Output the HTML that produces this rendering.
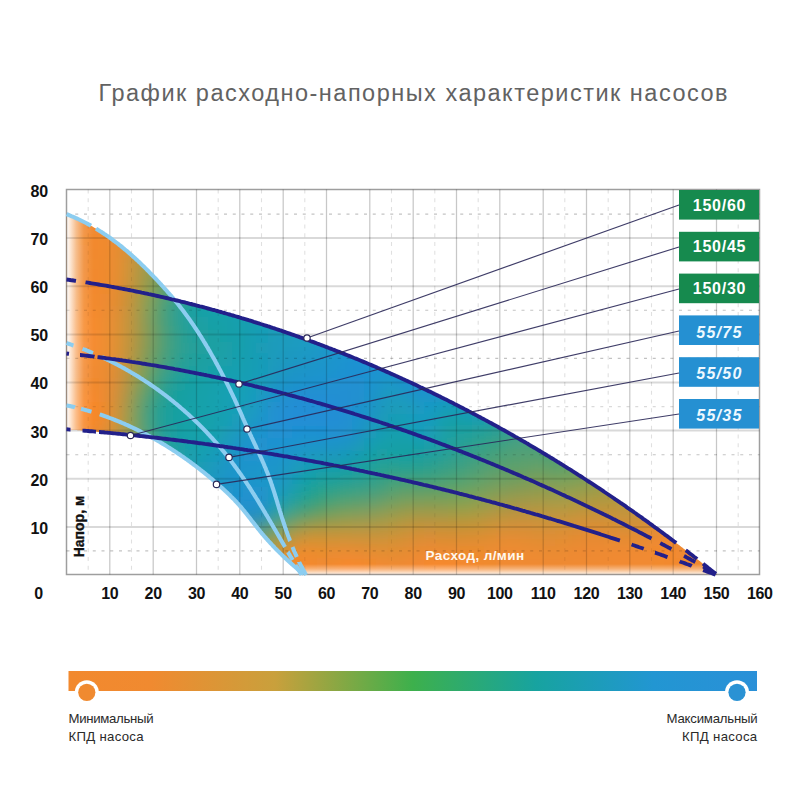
<!DOCTYPE html>
<html><head><meta charset="utf-8"><title>График</title>
<style>html,body{margin:0;padding:0;background:#fff;width:800px;height:800px;overflow:hidden}svg{display:block;font-family:"Liberation Sans",sans-serif}</style>
</head><body>
<svg width="800" height="800" viewBox="0 0 800 800">
<defs>
<clipPath id="fc"><path d="M66.5,214.1 L66.5,214.1 L67.5,214.5 L68.6,215.0 L69.7,215.4 L70.7,215.8 L71.8,216.3 L72.8,216.7 L73.8,217.1 L74.9,217.6 L75.9,218.1 L76.9,218.5 L78.0,219.0 L79.0,219.5 L80.0,220.0 L81.0,220.5 L82.0,221.0 L83.0,221.5 L84.0,222.0 L85.0,222.5 L86.0,223.0 L87.0,223.5 L88.0,224.1 L89.0,224.6 L90.0,225.1 L91.0,225.7 L91.9,226.2 L92.9,226.8 L93.9,227.4 L94.8,227.9 L95.8,228.5 L96.7,229.1 L97.7,229.7 L98.6,230.3 L99.6,230.9 L100.5,231.5 L101.5,232.1 L102.4,232.7 L103.3,233.3 L104.2,233.9 L105.2,234.5 L106.1,235.1 L107.0,235.8 L107.9,236.4 L108.8,237.0 L109.7,237.7 L110.7,238.3 L111.6,239.0 L112.5,239.6 L113.3,240.3 L114.2,241.0 L115.1,241.6 L116.0,242.3 L116.9,243.0 L117.8,243.7 L118.7,244.4 L119.5,245.1 L120.4,245.7 L121.3,246.4 L122.1,247.1 L123.0,247.9 L123.9,248.6 L124.7,249.3 L125.6,250.0 L126.4,250.7 L127.3,251.4 L128.1,252.2 L129.0,252.9 L129.8,253.6 L130.6,254.3 L131.5,255.1 L132.3,255.8 L133.1,256.6 L134.0,257.3 L134.8,258.1 L135.6,258.8 L136.4,259.6 L137.3,260.3 L138.1,261.1 L138.9,261.9 L139.7,262.6 L140.5,263.4 L141.3,264.2 L142.1,265.0 L142.9,265.7 L143.7,266.5 L144.5,267.3 L145.3,268.1 L146.1,268.9 L146.9,269.7 L147.7,270.5 L148.5,271.3 L149.3,272.1 L150.0,272.9 L150.8,273.7 L151.6,274.5 L152.4,275.3 L153.2,276.1 L153.9,276.9 L154.7,277.7 L155.5,278.5 L156.2,279.3 L157.0,280.1 L157.8,281.0 L158.5,281.8 L159.3,282.6 L160.0,283.4 L160.8,284.2 L161.5,285.1 L162.3,285.9 L163.0,286.7 L163.8,287.5 L164.5,288.4 L165.3,289.2 L166.0,290.0 L166.8,290.9 L167.5,291.7 L168.2,292.6 L169.0,293.4 L169.7,294.2 L170.4,295.1 L171.2,295.9 L171.9,296.8 L172.6,297.6 L173.3,298.5 L174.0,299.4 L174.7,300.2 L175.2,300.1 L177.0,300.5 L178.7,300.9 L180.5,301.4 L182.2,301.8 L184.0,302.2 L185.8,302.7 L187.5,303.1 L189.3,303.6 L191.0,304.0 L192.8,304.5 L194.5,304.9 L196.3,305.4 L198.0,305.8 L199.8,306.3 L201.6,306.7 L203.3,307.2 L205.1,307.7 L206.8,308.1 L208.6,308.6 L210.3,309.1 L212.1,309.6 L213.8,310.0 L215.5,310.5 L217.3,311.0 L219.0,311.5 L220.8,312.0 L222.5,312.5 L224.3,313.0 L226.0,313.5 L227.7,314.0 L229.5,314.5 L231.2,315.0 L233.0,315.5 L234.7,316.0 L236.4,316.5 L238.2,317.0 L239.9,317.5 L241.6,318.1 L243.4,318.6 L245.1,319.1 L246.8,319.6 L248.6,320.2 L250.3,320.7 L252.0,321.2 L253.8,321.8 L255.5,322.3 L257.2,322.9 L258.9,323.4 L260.7,324.0 L262.4,324.5 L264.1,325.1 L265.8,325.6 L267.5,326.2 L269.3,326.7 L271.0,327.3 L272.7,327.9 L274.4,328.4 L276.1,329.0 L277.9,329.6 L279.6,330.2 L281.3,330.7 L283.0,331.3 L284.7,331.9 L286.4,332.5 L288.1,333.1 L289.8,333.7 L291.6,334.3 L293.3,334.9 L295.0,335.5 L296.7,336.1 L298.4,336.7 L300.1,337.3 L301.8,337.9 L303.5,338.5 L305.2,339.1 L306.9,339.7 L308.6,340.3 L310.3,341.0 L312.0,341.6 L313.7,342.2 L315.4,342.8 L317.1,343.5 L318.8,344.1 L320.5,344.7 L322.2,345.4 L323.9,346.0 L325.6,346.7 L327.2,347.3 L328.9,348.0 L330.6,348.6 L332.3,349.3 L334.0,349.9 L335.7,350.6 L337.4,351.2 L339.1,351.9 L340.7,352.6 L342.4,353.2 L344.1,353.9 L345.8,354.6 L347.5,355.2 L349.1,355.9 L350.8,356.6 L352.5,357.3 L354.2,358.0 L355.8,358.6 L357.5,359.3 L359.2,360.0 L360.9,360.7 L362.5,361.4 L364.2,362.1 L365.9,362.8 L367.5,363.5 L369.2,364.2 L370.9,364.9 L372.5,365.6 L374.2,366.3 L375.9,367.0 L377.5,367.8 L379.2,368.5 L380.8,369.2 L382.5,369.9 L384.2,370.6 L385.8,371.4 L387.5,372.1 L389.1,372.8 L390.8,373.6 L392.4,374.3 L394.1,375.0 L395.8,375.8 L397.4,376.5 L399.1,377.3 L400.7,378.0 L402.3,378.8 L404.0,379.5 L405.6,380.3 L407.3,381.0 L408.9,381.8 L410.6,382.5 L412.2,383.3 L413.9,384.1 L415.5,384.8 L417.1,385.6 L418.8,386.4 L420.4,387.2 L422.0,387.9 L423.7,388.7 L425.3,389.5 L426.9,390.3 L428.6,391.1 L430.2,391.8 L431.8,392.6 L433.5,393.4 L435.1,394.2 L436.7,395.0 L438.3,395.8 L440.0,396.6 L441.6,397.4 L443.2,398.2 L444.8,399.0 L446.5,399.8 L448.1,400.6 L449.7,401.5 L451.3,402.3 L452.9,403.1 L454.5,403.9 L456.2,404.7 L457.8,405.6 L459.4,406.4 L461.0,407.2 L462.6,408.0 L464.2,408.9 L465.8,409.7 L467.4,410.5 L469.0,411.4 L470.6,412.2 L472.2,413.1 L473.8,413.9 L475.4,414.8 L477.1,415.6 L478.6,416.5 L480.2,417.3 L481.8,418.2 L483.4,419.0 L485.0,419.9 L486.6,420.7 L488.2,421.6 L489.8,422.5 L491.4,423.3 L493.0,424.2 L494.6,425.1 L496.2,425.9 L497.8,426.8 L499.3,427.7 L500.9,428.6 L502.5,429.5 L504.1,430.3 L505.7,431.2 L507.3,432.1 L508.8,433.0 L510.4,433.9 L512.0,434.8 L513.6,435.7 L515.1,436.6 L516.7,437.5 L518.3,438.4 L519.9,439.3 L521.4,440.2 L523.0,441.1 L524.6,442.0 L526.1,442.9 L527.7,443.8 L529.3,444.8 L530.8,445.7 L532.4,446.6 L533.9,447.5 L535.5,448.4 L537.1,449.4 L538.6,450.3 L540.2,451.2 L541.7,452.1 L543.3,453.1 L544.8,454.0 L546.4,455.0 L547.9,455.9 L549.5,456.8 L551.0,457.8 L552.6,458.7 L554.1,459.7 L555.7,460.6 L557.2,461.6 L558.8,462.5 L560.3,463.5 L561.8,464.4 L563.4,465.4 L564.9,466.3 L566.5,467.3 L568.0,468.3 L569.5,469.2 L571.1,470.2 L572.6,471.2 L574.1,472.1 L575.7,473.1 L577.2,474.1 L578.7,475.1 L580.2,476.0 L581.8,477.0 L583.3,478.0 L584.8,479.0 L586.3,480.0 L587.8,481.0 L589.4,482.0 L590.9,482.9 L592.4,483.9 L593.9,484.9 L595.4,485.9 L596.9,486.9 L598.5,487.9 L600.0,488.9 L601.5,489.9 L603.0,490.9 L604.5,492.0 L606.0,493.0 L607.5,494.0 L609.0,495.0 L610.5,496.0 L612.0,497.0 L613.5,498.0 L615.0,499.1 L616.5,500.1 L618.0,501.1 L619.5,502.1 L621.0,503.2 L622.5,504.2 L624.0,505.2 L625.5,506.2 L626.9,507.3 L628.4,508.3 L629.9,509.4 L631.4,510.4 L632.9,511.4 L634.4,512.5 L635.9,513.5 L637.3,514.6 L638.8,515.6 L640.3,516.7 L641.8,517.7 L643.2,518.8 L644.7,519.8 L646.2,520.9 L647.7,521.9 L649.1,523.0 L650.6,524.1 L652.1,525.1 L653.5,526.2 L655.0,527.3 L656.5,528.3 L657.9,529.4 L659.4,530.5 L660.8,531.5 L662.3,532.6 L663.8,533.7 L665.2,534.8 L666.7,535.8 L668.1,536.9 L669.6,538.0 L671.0,539.1 L672.5,540.2 L673.9,541.3 L675.4,542.4 L676.8,543.5 L678.3,544.5 L679.7,545.6 L681.1,546.7 L682.6,547.8 L684.0,548.9 L685.5,550.0 L686.9,551.1 L688.3,552.2 L689.8,553.4 L691.2,554.5 L692.6,555.6 L694.0,556.7 L695.5,557.8 L696.9,558.9 L698.3,560.0 L699.8,561.1 L701.2,562.3 L702.6,563.4 L704.0,564.5 L705.4,565.6 L706.9,566.7 L708.3,567.9 L709.7,569.0 L711.1,570.1 L712.5,571.3 L713.9,572.4 L715.3,573.5 L716.7,574.7 L716.5,575.0 L303.5,575.0 L303.7,574.3 L303.2,573.8 L302.6,573.3 L302.0,572.8 L301.4,572.3 L300.9,571.9 L300.3,571.4 L299.7,570.9 L299.2,570.4 L298.6,569.9 L298.0,569.5 L297.4,569.0 L296.9,568.5 L296.3,568.0 L295.7,567.5 L295.2,567.0 L294.6,566.5 L294.0,566.0 L293.5,565.6 L292.9,565.1 L292.4,564.6 L291.8,564.1 L291.2,563.6 L290.7,563.1 L290.1,562.6 L289.6,562.1 L289.0,561.6 L288.5,561.1 L287.9,560.6 L287.4,560.1 L286.8,559.6 L286.3,559.1 L285.7,558.5 L285.2,558.0 L284.7,557.5 L284.1,557.0 L283.6,556.5 L283.0,556.0 L282.5,555.5 L282.0,555.0 L281.4,554.4 L280.9,553.9 L280.4,553.4 L279.8,552.9 L279.3,552.3 L278.8,551.8 L278.3,551.3 L277.7,550.8 L277.2,550.2 L276.7,549.7 L276.2,549.2 L275.7,548.7 L275.1,548.1 L274.6,547.6 L274.1,547.0 L273.6,546.5 L273.1,546.0 L272.6,545.4 L272.1,544.9 L271.6,544.3 L271.1,543.8 L270.6,543.3 L270.1,542.7 L269.6,542.2 L269.1,541.6 L268.6,541.1 L268.1,540.5 L267.6,540.0 L267.1,539.4 L266.6,538.8 L266.1,538.3 L265.6,537.7 L265.1,537.2 L264.6,536.6 L264.1,536.0 L263.7,535.5 L263.2,534.9 L262.7,534.3 L262.2,533.8 L261.7,533.2 L261.3,532.6 L260.8,532.1 L260.3,531.5 L259.9,530.9 L259.4,530.3 L258.9,529.7 L258.5,529.2 L258.0,528.6 L257.5,528.0 L257.1,527.4 L256.6,526.8 L256.2,526.2 L255.7,525.7 L255.2,525.1 L254.8,524.5 L254.3,523.9 L253.9,523.3 L253.4,522.7 L253.0,522.1 L252.5,521.6 L252.0,521.0 L251.6,520.4 L251.1,519.8 L250.7,519.2 L250.2,518.6 L249.8,518.0 L249.3,517.4 L248.8,516.9 L248.4,516.3 L247.9,515.7 L247.5,515.1 L247.0,514.5 L246.5,513.9 L246.1,513.4 L245.6,512.8 L245.1,512.2 L244.7,511.6 L244.2,511.0 L243.7,510.5 L243.3,509.9 L242.8,509.3 L242.3,508.7 L241.8,508.2 L241.4,507.6 L240.9,507.0 L240.4,506.5 L239.9,505.9 L239.4,505.4 L238.9,504.8 L238.4,504.2 L237.9,503.7 L237.4,503.1 L236.9,502.6 L236.4,502.0 L235.9,501.5 L235.4,501.0 L234.9,500.4 L234.4,499.9 L233.9,499.3 L233.3,498.8 L232.8,498.3 L232.3,497.7 L231.8,497.2 L231.2,496.7 L230.7,496.2 L230.2,495.6 L229.7,495.1 L229.1,494.6 L228.6,494.1 L228.1,493.6 L227.5,493.0 L227.0,492.5 L226.4,492.0 L225.9,491.5 L225.3,491.0 L224.8,490.5 L224.3,490.0 L223.7,489.5 L223.2,489.0 L222.6,488.5 L222.1,488.0 L221.5,487.5 L220.9,487.0 L220.4,486.5 L219.8,486.0 L219.3,485.5 L218.7,485.0 L218.2,484.5 L217.6,484.0 L217.0,483.5 L216.5,483.0 L215.9,482.5 L215.3,482.0 L214.8,481.5 L214.2,481.1 L213.6,480.6 L213.1,480.1 L212.5,479.6 L211.9,479.1 L211.4,478.6 L210.8,478.2 L210.2,477.7 L209.6,477.2 L209.1,476.7 L208.5,476.2 L207.9,475.8 L207.3,475.3 L206.8,474.8 L206.2,474.4 L205.6,473.9 L205.0,473.4 L204.4,472.9 L203.8,472.5 L203.3,472.0 L202.7,471.5 L202.1,471.1 L201.5,470.6 L200.9,470.2 L200.3,469.7 L199.7,469.2 L199.2,468.8 L198.6,468.3 L198.0,467.9 L197.4,467.4 L196.8,467.0 L196.2,466.5 L195.6,466.0 L195.0,465.6 L194.4,465.2 L193.8,464.7 L193.2,464.3 L192.6,463.8 L192.0,463.4 L191.4,462.9 L190.8,462.5 L190.2,462.0 L189.6,461.6 L189.0,461.2 L188.4,460.7 L187.8,460.3 L187.2,459.8 L186.6,459.4 L186.0,459.0 L185.4,458.6 L184.8,458.1 L184.2,457.7 L183.6,457.3 L182.9,456.8 L182.3,456.4 L181.7,456.0 L181.1,455.6 L180.5,455.1 L179.9,454.7 L179.3,454.3 L178.6,453.9 L178.0,453.5 L177.4,453.1 L176.8,452.6 L176.2,452.2 L175.5,451.8 L174.9,451.4 L174.3,451.0 L173.7,450.6 L173.0,450.2 L172.4,449.8 L171.8,449.4 L171.2,449.0 L170.5,448.6 L169.9,448.2 L169.3,447.8 L168.7,447.4 L168.0,447.0 L167.4,446.6 L166.8,446.2 L166.1,445.8 L165.5,445.4 L164.9,445.0 L164.2,444.6 L163.6,444.3 L162.9,443.9 L162.3,443.5 L161.7,443.1 L161.0,442.7 L160.4,442.3 L159.8,442.0 L159.1,441.6 L158.5,441.2 L157.8,440.8 L157.2,440.5 L156.5,440.1 L155.9,439.7 L155.2,439.4 L154.6,439.0 L153.9,438.6 L153.3,438.3 L152.6,437.9 L152.0,437.5 L151.3,437.2 L151.5,437.2 L149.9,437.1 L148.2,436.9 L146.5,436.7 L144.9,436.5 L143.2,436.3 L141.5,436.1 L139.9,436.0 L138.2,435.8 L136.5,435.6 L134.9,435.4 L133.2,435.3 L131.5,435.1 L129.9,434.9 L128.2,434.7 L126.5,434.6 L124.9,434.4 L123.2,434.2 L121.5,434.1 L119.9,433.9 L118.2,433.7 L116.5,433.6 L114.9,433.4 L113.2,433.3 L111.5,433.1 L109.8,432.9 L108.2,432.8 L106.5,432.6 L104.8,432.5 L103.2,432.3 L101.5,432.2 L99.8,432.0 L98.2,431.9 L96.5,431.7 L94.8,431.6 L93.2,431.4 L91.5,431.3 L89.8,431.2 L88.1,431.0 L86.5,430.9 L84.8,430.7 L83.1,430.6 L81.5,430.5 L79.8,430.3 L78.1,430.2 L76.4,430.1 L74.8,429.9 L73.1,429.8 L71.4,429.7 L69.8,429.6 L68.1,429.4 L66.4,429.3 Z"/></clipPath>
<clipPath id="fco"><path clip-rule="evenodd" d="M0,0 L800,0 L800,800 L0,800 Z M66.5,214.1 L66.5,214.1 L67.5,214.5 L68.6,215.0 L69.7,215.4 L70.7,215.8 L71.8,216.3 L72.8,216.7 L73.8,217.1 L74.9,217.6 L75.9,218.1 L76.9,218.5 L78.0,219.0 L79.0,219.5 L80.0,220.0 L81.0,220.5 L82.0,221.0 L83.0,221.5 L84.0,222.0 L85.0,222.5 L86.0,223.0 L87.0,223.5 L88.0,224.1 L89.0,224.6 L90.0,225.1 L91.0,225.7 L91.9,226.2 L92.9,226.8 L93.9,227.4 L94.8,227.9 L95.8,228.5 L96.7,229.1 L97.7,229.7 L98.6,230.3 L99.6,230.9 L100.5,231.5 L101.5,232.1 L102.4,232.7 L103.3,233.3 L104.2,233.9 L105.2,234.5 L106.1,235.1 L107.0,235.8 L107.9,236.4 L108.8,237.0 L109.7,237.7 L110.7,238.3 L111.6,239.0 L112.5,239.6 L113.3,240.3 L114.2,241.0 L115.1,241.6 L116.0,242.3 L116.9,243.0 L117.8,243.7 L118.7,244.4 L119.5,245.1 L120.4,245.7 L121.3,246.4 L122.1,247.1 L123.0,247.9 L123.9,248.6 L124.7,249.3 L125.6,250.0 L126.4,250.7 L127.3,251.4 L128.1,252.2 L129.0,252.9 L129.8,253.6 L130.6,254.3 L131.5,255.1 L132.3,255.8 L133.1,256.6 L134.0,257.3 L134.8,258.1 L135.6,258.8 L136.4,259.6 L137.3,260.3 L138.1,261.1 L138.9,261.9 L139.7,262.6 L140.5,263.4 L141.3,264.2 L142.1,265.0 L142.9,265.7 L143.7,266.5 L144.5,267.3 L145.3,268.1 L146.1,268.9 L146.9,269.7 L147.7,270.5 L148.5,271.3 L149.3,272.1 L150.0,272.9 L150.8,273.7 L151.6,274.5 L152.4,275.3 L153.2,276.1 L153.9,276.9 L154.7,277.7 L155.5,278.5 L156.2,279.3 L157.0,280.1 L157.8,281.0 L158.5,281.8 L159.3,282.6 L160.0,283.4 L160.8,284.2 L161.5,285.1 L162.3,285.9 L163.0,286.7 L163.8,287.5 L164.5,288.4 L165.3,289.2 L166.0,290.0 L166.8,290.9 L167.5,291.7 L168.2,292.6 L169.0,293.4 L169.7,294.2 L170.4,295.1 L171.2,295.9 L171.9,296.8 L172.6,297.6 L173.3,298.5 L174.0,299.4 L174.7,300.2 L175.2,300.1 L177.0,300.5 L178.7,300.9 L180.5,301.4 L182.2,301.8 L184.0,302.2 L185.8,302.7 L187.5,303.1 L189.3,303.6 L191.0,304.0 L192.8,304.5 L194.5,304.9 L196.3,305.4 L198.0,305.8 L199.8,306.3 L201.6,306.7 L203.3,307.2 L205.1,307.7 L206.8,308.1 L208.6,308.6 L210.3,309.1 L212.1,309.6 L213.8,310.0 L215.5,310.5 L217.3,311.0 L219.0,311.5 L220.8,312.0 L222.5,312.5 L224.3,313.0 L226.0,313.5 L227.7,314.0 L229.5,314.5 L231.2,315.0 L233.0,315.5 L234.7,316.0 L236.4,316.5 L238.2,317.0 L239.9,317.5 L241.6,318.1 L243.4,318.6 L245.1,319.1 L246.8,319.6 L248.6,320.2 L250.3,320.7 L252.0,321.2 L253.8,321.8 L255.5,322.3 L257.2,322.9 L258.9,323.4 L260.7,324.0 L262.4,324.5 L264.1,325.1 L265.8,325.6 L267.5,326.2 L269.3,326.7 L271.0,327.3 L272.7,327.9 L274.4,328.4 L276.1,329.0 L277.9,329.6 L279.6,330.2 L281.3,330.7 L283.0,331.3 L284.7,331.9 L286.4,332.5 L288.1,333.1 L289.8,333.7 L291.6,334.3 L293.3,334.9 L295.0,335.5 L296.7,336.1 L298.4,336.7 L300.1,337.3 L301.8,337.9 L303.5,338.5 L305.2,339.1 L306.9,339.7 L308.6,340.3 L310.3,341.0 L312.0,341.6 L313.7,342.2 L315.4,342.8 L317.1,343.5 L318.8,344.1 L320.5,344.7 L322.2,345.4 L323.9,346.0 L325.6,346.7 L327.2,347.3 L328.9,348.0 L330.6,348.6 L332.3,349.3 L334.0,349.9 L335.7,350.6 L337.4,351.2 L339.1,351.9 L340.7,352.6 L342.4,353.2 L344.1,353.9 L345.8,354.6 L347.5,355.2 L349.1,355.9 L350.8,356.6 L352.5,357.3 L354.2,358.0 L355.8,358.6 L357.5,359.3 L359.2,360.0 L360.9,360.7 L362.5,361.4 L364.2,362.1 L365.9,362.8 L367.5,363.5 L369.2,364.2 L370.9,364.9 L372.5,365.6 L374.2,366.3 L375.9,367.0 L377.5,367.8 L379.2,368.5 L380.8,369.2 L382.5,369.9 L384.2,370.6 L385.8,371.4 L387.5,372.1 L389.1,372.8 L390.8,373.6 L392.4,374.3 L394.1,375.0 L395.8,375.8 L397.4,376.5 L399.1,377.3 L400.7,378.0 L402.3,378.8 L404.0,379.5 L405.6,380.3 L407.3,381.0 L408.9,381.8 L410.6,382.5 L412.2,383.3 L413.9,384.1 L415.5,384.8 L417.1,385.6 L418.8,386.4 L420.4,387.2 L422.0,387.9 L423.7,388.7 L425.3,389.5 L426.9,390.3 L428.6,391.1 L430.2,391.8 L431.8,392.6 L433.5,393.4 L435.1,394.2 L436.7,395.0 L438.3,395.8 L440.0,396.6 L441.6,397.4 L443.2,398.2 L444.8,399.0 L446.5,399.8 L448.1,400.6 L449.7,401.5 L451.3,402.3 L452.9,403.1 L454.5,403.9 L456.2,404.7 L457.8,405.6 L459.4,406.4 L461.0,407.2 L462.6,408.0 L464.2,408.9 L465.8,409.7 L467.4,410.5 L469.0,411.4 L470.6,412.2 L472.2,413.1 L473.8,413.9 L475.4,414.8 L477.1,415.6 L478.6,416.5 L480.2,417.3 L481.8,418.2 L483.4,419.0 L485.0,419.9 L486.6,420.7 L488.2,421.6 L489.8,422.5 L491.4,423.3 L493.0,424.2 L494.6,425.1 L496.2,425.9 L497.8,426.8 L499.3,427.7 L500.9,428.6 L502.5,429.5 L504.1,430.3 L505.7,431.2 L507.3,432.1 L508.8,433.0 L510.4,433.9 L512.0,434.8 L513.6,435.7 L515.1,436.6 L516.7,437.5 L518.3,438.4 L519.9,439.3 L521.4,440.2 L523.0,441.1 L524.6,442.0 L526.1,442.9 L527.7,443.8 L529.3,444.8 L530.8,445.7 L532.4,446.6 L533.9,447.5 L535.5,448.4 L537.1,449.4 L538.6,450.3 L540.2,451.2 L541.7,452.1 L543.3,453.1 L544.8,454.0 L546.4,455.0 L547.9,455.9 L549.5,456.8 L551.0,457.8 L552.6,458.7 L554.1,459.7 L555.7,460.6 L557.2,461.6 L558.8,462.5 L560.3,463.5 L561.8,464.4 L563.4,465.4 L564.9,466.3 L566.5,467.3 L568.0,468.3 L569.5,469.2 L571.1,470.2 L572.6,471.2 L574.1,472.1 L575.7,473.1 L577.2,474.1 L578.7,475.1 L580.2,476.0 L581.8,477.0 L583.3,478.0 L584.8,479.0 L586.3,480.0 L587.8,481.0 L589.4,482.0 L590.9,482.9 L592.4,483.9 L593.9,484.9 L595.4,485.9 L596.9,486.9 L598.5,487.9 L600.0,488.9 L601.5,489.9 L603.0,490.9 L604.5,492.0 L606.0,493.0 L607.5,494.0 L609.0,495.0 L610.5,496.0 L612.0,497.0 L613.5,498.0 L615.0,499.1 L616.5,500.1 L618.0,501.1 L619.5,502.1 L621.0,503.2 L622.5,504.2 L624.0,505.2 L625.5,506.2 L626.9,507.3 L628.4,508.3 L629.9,509.4 L631.4,510.4 L632.9,511.4 L634.4,512.5 L635.9,513.5 L637.3,514.6 L638.8,515.6 L640.3,516.7 L641.8,517.7 L643.2,518.8 L644.7,519.8 L646.2,520.9 L647.7,521.9 L649.1,523.0 L650.6,524.1 L652.1,525.1 L653.5,526.2 L655.0,527.3 L656.5,528.3 L657.9,529.4 L659.4,530.5 L660.8,531.5 L662.3,532.6 L663.8,533.7 L665.2,534.8 L666.7,535.8 L668.1,536.9 L669.6,538.0 L671.0,539.1 L672.5,540.2 L673.9,541.3 L675.4,542.4 L676.8,543.5 L678.3,544.5 L679.7,545.6 L681.1,546.7 L682.6,547.8 L684.0,548.9 L685.5,550.0 L686.9,551.1 L688.3,552.2 L689.8,553.4 L691.2,554.5 L692.6,555.6 L694.0,556.7 L695.5,557.8 L696.9,558.9 L698.3,560.0 L699.8,561.1 L701.2,562.3 L702.6,563.4 L704.0,564.5 L705.4,565.6 L706.9,566.7 L708.3,567.9 L709.7,569.0 L711.1,570.1 L712.5,571.3 L713.9,572.4 L715.3,573.5 L716.7,574.7 L716.5,575.0 L303.5,575.0 L303.7,574.3 L303.2,573.8 L302.6,573.3 L302.0,572.8 L301.4,572.3 L300.9,571.9 L300.3,571.4 L299.7,570.9 L299.2,570.4 L298.6,569.9 L298.0,569.5 L297.4,569.0 L296.9,568.5 L296.3,568.0 L295.7,567.5 L295.2,567.0 L294.6,566.5 L294.0,566.0 L293.5,565.6 L292.9,565.1 L292.4,564.6 L291.8,564.1 L291.2,563.6 L290.7,563.1 L290.1,562.6 L289.6,562.1 L289.0,561.6 L288.5,561.1 L287.9,560.6 L287.4,560.1 L286.8,559.6 L286.3,559.1 L285.7,558.5 L285.2,558.0 L284.7,557.5 L284.1,557.0 L283.6,556.5 L283.0,556.0 L282.5,555.5 L282.0,555.0 L281.4,554.4 L280.9,553.9 L280.4,553.4 L279.8,552.9 L279.3,552.3 L278.8,551.8 L278.3,551.3 L277.7,550.8 L277.2,550.2 L276.7,549.7 L276.2,549.2 L275.7,548.7 L275.1,548.1 L274.6,547.6 L274.1,547.0 L273.6,546.5 L273.1,546.0 L272.6,545.4 L272.1,544.9 L271.6,544.3 L271.1,543.8 L270.6,543.3 L270.1,542.7 L269.6,542.2 L269.1,541.6 L268.6,541.1 L268.1,540.5 L267.6,540.0 L267.1,539.4 L266.6,538.8 L266.1,538.3 L265.6,537.7 L265.1,537.2 L264.6,536.6 L264.1,536.0 L263.7,535.5 L263.2,534.9 L262.7,534.3 L262.2,533.8 L261.7,533.2 L261.3,532.6 L260.8,532.1 L260.3,531.5 L259.9,530.9 L259.4,530.3 L258.9,529.7 L258.5,529.2 L258.0,528.6 L257.5,528.0 L257.1,527.4 L256.6,526.8 L256.2,526.2 L255.7,525.7 L255.2,525.1 L254.8,524.5 L254.3,523.9 L253.9,523.3 L253.4,522.7 L253.0,522.1 L252.5,521.6 L252.0,521.0 L251.6,520.4 L251.1,519.8 L250.7,519.2 L250.2,518.6 L249.8,518.0 L249.3,517.4 L248.8,516.9 L248.4,516.3 L247.9,515.7 L247.5,515.1 L247.0,514.5 L246.5,513.9 L246.1,513.4 L245.6,512.8 L245.1,512.2 L244.7,511.6 L244.2,511.0 L243.7,510.5 L243.3,509.9 L242.8,509.3 L242.3,508.7 L241.8,508.2 L241.4,507.6 L240.9,507.0 L240.4,506.5 L239.9,505.9 L239.4,505.4 L238.9,504.8 L238.4,504.2 L237.9,503.7 L237.4,503.1 L236.9,502.6 L236.4,502.0 L235.9,501.5 L235.4,501.0 L234.9,500.4 L234.4,499.9 L233.9,499.3 L233.3,498.8 L232.8,498.3 L232.3,497.7 L231.8,497.2 L231.2,496.7 L230.7,496.2 L230.2,495.6 L229.7,495.1 L229.1,494.6 L228.6,494.1 L228.1,493.6 L227.5,493.0 L227.0,492.5 L226.4,492.0 L225.9,491.5 L225.3,491.0 L224.8,490.5 L224.3,490.0 L223.7,489.5 L223.2,489.0 L222.6,488.5 L222.1,488.0 L221.5,487.5 L220.9,487.0 L220.4,486.5 L219.8,486.0 L219.3,485.5 L218.7,485.0 L218.2,484.5 L217.6,484.0 L217.0,483.5 L216.5,483.0 L215.9,482.5 L215.3,482.0 L214.8,481.5 L214.2,481.1 L213.6,480.6 L213.1,480.1 L212.5,479.6 L211.9,479.1 L211.4,478.6 L210.8,478.2 L210.2,477.7 L209.6,477.2 L209.1,476.7 L208.5,476.2 L207.9,475.8 L207.3,475.3 L206.8,474.8 L206.2,474.4 L205.6,473.9 L205.0,473.4 L204.4,472.9 L203.8,472.5 L203.3,472.0 L202.7,471.5 L202.1,471.1 L201.5,470.6 L200.9,470.2 L200.3,469.7 L199.7,469.2 L199.2,468.8 L198.6,468.3 L198.0,467.9 L197.4,467.4 L196.8,467.0 L196.2,466.5 L195.6,466.0 L195.0,465.6 L194.4,465.2 L193.8,464.7 L193.2,464.3 L192.6,463.8 L192.0,463.4 L191.4,462.9 L190.8,462.5 L190.2,462.0 L189.6,461.6 L189.0,461.2 L188.4,460.7 L187.8,460.3 L187.2,459.8 L186.6,459.4 L186.0,459.0 L185.4,458.6 L184.8,458.1 L184.2,457.7 L183.6,457.3 L182.9,456.8 L182.3,456.4 L181.7,456.0 L181.1,455.6 L180.5,455.1 L179.9,454.7 L179.3,454.3 L178.6,453.9 L178.0,453.5 L177.4,453.1 L176.8,452.6 L176.2,452.2 L175.5,451.8 L174.9,451.4 L174.3,451.0 L173.7,450.6 L173.0,450.2 L172.4,449.8 L171.8,449.4 L171.2,449.0 L170.5,448.6 L169.9,448.2 L169.3,447.8 L168.7,447.4 L168.0,447.0 L167.4,446.6 L166.8,446.2 L166.1,445.8 L165.5,445.4 L164.9,445.0 L164.2,444.6 L163.6,444.3 L162.9,443.9 L162.3,443.5 L161.7,443.1 L161.0,442.7 L160.4,442.3 L159.8,442.0 L159.1,441.6 L158.5,441.2 L157.8,440.8 L157.2,440.5 L156.5,440.1 L155.9,439.7 L155.2,439.4 L154.6,439.0 L153.9,438.6 L153.3,438.3 L152.6,437.9 L152.0,437.5 L151.3,437.2 L151.5,437.2 L149.9,437.1 L148.2,436.9 L146.5,436.7 L144.9,436.5 L143.2,436.3 L141.5,436.1 L139.9,436.0 L138.2,435.8 L136.5,435.6 L134.9,435.4 L133.2,435.3 L131.5,435.1 L129.9,434.9 L128.2,434.7 L126.5,434.6 L124.9,434.4 L123.2,434.2 L121.5,434.1 L119.9,433.9 L118.2,433.7 L116.5,433.6 L114.9,433.4 L113.2,433.3 L111.5,433.1 L109.8,432.9 L108.2,432.8 L106.5,432.6 L104.8,432.5 L103.2,432.3 L101.5,432.2 L99.8,432.0 L98.2,431.9 L96.5,431.7 L94.8,431.6 L93.2,431.4 L91.5,431.3 L89.8,431.2 L88.1,431.0 L86.5,430.9 L84.8,430.7 L83.1,430.6 L81.5,430.5 L79.8,430.3 L78.1,430.2 L76.4,430.1 L74.8,429.9 L73.1,429.8 L71.4,429.7 L69.8,429.6 L68.1,429.4 L66.4,429.3 Z"/></clipPath>
<radialGradient id="rg" gradientUnits="userSpaceOnUse" cx="0" cy="0" r="1" gradientTransform="translate(305 382) scale(475 194)">
<stop offset="0" stop-color="#1f8fd8"/>
<stop offset="0.28" stop-color="#2091d5"/>
<stop offset="0.4" stop-color="#1a9cc2"/>
<stop offset="0.48" stop-color="#18a0a4"/>
<stop offset="0.56" stop-color="#2ea28c"/>
<stop offset="0.64" stop-color="#5ea462"/>
<stop offset="0.76" stop-color="#b09a40"/>
<stop offset="0.88" stop-color="#e88c30"/>
<stop offset="1" stop-color="#f28a2c"/>
</radialGradient>
<linearGradient id="lg" gradientUnits="userSpaceOnUse" x1="66" y1="0" x2="200" y2="0">
<stop offset="0" stop-color="#ffffff" stop-opacity="1"/>
<stop offset="0.085" stop-color="#f3892c" stop-opacity="1"/>
<stop offset="0.42" stop-color="#f08a2e" stop-opacity="1"/>
<stop offset="0.59" stop-color="#a89a40" stop-opacity="0.9"/>
<stop offset="0.74" stop-color="#50a070" stop-opacity="0.5"/>
<stop offset="1" stop-color="#1fa0a0" stop-opacity="0"/>
</linearGradient>
<radialGradient id="hs" gradientUnits="userSpaceOnUse" cx="0" cy="0" r="1" gradientTransform="translate(252 492) rotate(50) scale(70 38)">
<stop offset="0" stop-color="#2192d2" stop-opacity="0.95"/>
<stop offset="0.55" stop-color="#2192d2" stop-opacity="0.7"/>
<stop offset="1" stop-color="#2192d2" stop-opacity="0"/>
</radialGradient>
<linearGradient id="lw" gradientUnits="userSpaceOnUse" x1="66" y1="0" x2="94" y2="0">
<stop offset="0" stop-color="#ffffff" stop-opacity="1"/>
<stop offset="0.15" stop-color="#ffffff" stop-opacity="0.8"/>
<stop offset="0.36" stop-color="#ffffff" stop-opacity="0.45"/>
<stop offset="0.64" stop-color="#ffffff" stop-opacity="0.12"/>
<stop offset="1" stop-color="#ffffff" stop-opacity="0"/>
</linearGradient>
<linearGradient id="bg" gradientUnits="userSpaceOnUse" x1="0" y1="564" x2="0" y2="575">
<stop offset="0" stop-color="#ffffff" stop-opacity="0"/>
<stop offset="0.45" stop-color="#ffffff" stop-opacity="0.35"/>
<stop offset="1" stop-color="#ffffff" stop-opacity="0.95"/>
</linearGradient>
<linearGradient id="bar" x1="0" y1="0" x2="1" y2="0">
<stop offset="0" stop-color="#f2892e"/>
<stop offset="0.12" stop-color="#f08a30"/>
<stop offset="0.3" stop-color="#c9a03c"/>
<stop offset="0.5" stop-color="#3db04c"/>
<stop offset="0.68" stop-color="#17a3a0"/>
<stop offset="0.85" stop-color="#2296d2"/>
<stop offset="1" stop-color="#2a90d8"/>
</linearGradient>
</defs>
<rect width="800" height="800" fill="#fff"/>
<text x="98.5" y="101.3" font-family="Liberation Sans, sans-serif" font-size="23.5" fill="#626262" letter-spacing="1.5">График расходно-напорных характеристик насосов</text>
<line x1="88.2" y1="189.5" x2="88.2" y2="574.5" stroke="#000" stroke-opacity="0.12" stroke-width="1.1" stroke-dasharray="4 4.75"/><line x1="131.5" y1="189.5" x2="131.5" y2="574.5" stroke="#000" stroke-opacity="0.12" stroke-width="1.1" stroke-dasharray="4 4.75"/><line x1="218.2" y1="189.5" x2="218.2" y2="574.5" stroke="#000" stroke-opacity="0.12" stroke-width="1.1" stroke-dasharray="4 4.75"/><line x1="261.5" y1="189.5" x2="261.5" y2="574.5" stroke="#000" stroke-opacity="0.12" stroke-width="1.1" stroke-dasharray="4 4.75"/><line x1="304.8" y1="189.5" x2="304.8" y2="574.5" stroke="#000" stroke-opacity="0.12" stroke-width="1.1" stroke-dasharray="4 4.75"/><line x1="391.5" y1="189.5" x2="391.5" y2="574.5" stroke="#000" stroke-opacity="0.12" stroke-width="1.1" stroke-dasharray="4 4.75"/><line x1="434.8" y1="189.5" x2="434.8" y2="574.5" stroke="#000" stroke-opacity="0.12" stroke-width="1.1" stroke-dasharray="4 4.75"/><line x1="478.2" y1="189.5" x2="478.2" y2="574.5" stroke="#000" stroke-opacity="0.12" stroke-width="1.1" stroke-dasharray="4 4.75"/><line x1="564.8" y1="189.5" x2="564.8" y2="574.5" stroke="#000" stroke-opacity="0.12" stroke-width="1.1" stroke-dasharray="4 4.75"/><line x1="608.2" y1="189.5" x2="608.2" y2="574.5" stroke="#000" stroke-opacity="0.12" stroke-width="1.1" stroke-dasharray="4 4.75"/><line x1="651.5" y1="189.5" x2="651.5" y2="574.5" stroke="#000" stroke-opacity="0.12" stroke-width="1.1" stroke-dasharray="4 4.75"/><line x1="738.2" y1="189.5" x2="738.2" y2="574.5" stroke="#000" stroke-opacity="0.12" stroke-width="1.1" stroke-dasharray="4 4.75"/><line x1="66.5" y1="550.9" x2="759.5" y2="550.9" stroke="#000" stroke-opacity="0.240" stroke-width="1.1" stroke-dasharray="3 5.75"/><line x1="66.5" y1="454.7" x2="759.5" y2="454.7" stroke="#000" stroke-opacity="0.240" stroke-width="1.1" stroke-dasharray="3 5.75"/><line x1="66.5" y1="406.6" x2="759.5" y2="406.6" stroke="#000" stroke-opacity="0.144" stroke-width="1.1" stroke-dasharray="3 5.75"/><line x1="66.5" y1="358.4" x2="759.5" y2="358.4" stroke="#000" stroke-opacity="0.240" stroke-width="1.1" stroke-dasharray="3 5.75"/><line x1="66.5" y1="310.3" x2="759.5" y2="310.3" stroke="#000" stroke-opacity="0.240" stroke-width="1.1" stroke-dasharray="3 5.75"/><line x1="66.5" y1="214.1" x2="759.5" y2="214.1" stroke="#000" stroke-opacity="0.240" stroke-width="1.1" stroke-dasharray="3 5.75"/>
<filter id="blur" filterUnits="userSpaceOnUse" x="20" y="170" width="740" height="450"><feGaussianBlur stdDeviation="7"/></filter>
<g clip-path="url(#fc)">
<g filter="url(#blur)"><rect x="40" y="186" width="12" height="12" fill="#f18a30"/><rect x="52" y="186" width="12" height="12" fill="#ef8a31"/><rect x="64" y="186" width="12" height="12" fill="#ed8a33"/><rect x="76" y="186" width="12" height="12" fill="#eb8a34"/><rect x="88" y="186" width="12" height="12" fill="#e78b37"/><rect x="100" y="186" width="12" height="12" fill="#e18b3a"/><rect x="112" y="186" width="12" height="12" fill="#d88d3f"/><rect x="40" y="198" width="12" height="12" fill="#f28a2f"/><rect x="52" y="198" width="12" height="12" fill="#f08a30"/><rect x="64" y="198" width="12" height="12" fill="#ef8a31"/><rect x="76" y="198" width="12" height="12" fill="#ed8a32"/><rect x="88" y="198" width="12" height="12" fill="#ea8b34"/><rect x="100" y="198" width="12" height="12" fill="#e58b37"/><rect x="112" y="198" width="12" height="12" fill="#dc8c3c"/><rect x="124" y="198" width="12" height="12" fill="#cf8e42"/><rect x="40" y="210" width="12" height="12" fill="#f28a2f"/><rect x="52" y="210" width="12" height="12" fill="#f18a30"/><rect x="64" y="210" width="12" height="12" fill="#f08a30"/><rect x="76" y="210" width="12" height="12" fill="#ef8a31"/><rect x="88" y="210" width="12" height="12" fill="#ed8a32"/><rect x="100" y="210" width="12" height="12" fill="#e98b34"/><rect x="112" y="210" width="12" height="12" fill="#e08c39"/><rect x="124" y="210" width="12" height="12" fill="#d18e3f"/><rect x="136" y="210" width="12" height="12" fill="#bf9148"/><rect x="148" y="210" width="12" height="12" fill="#ab9352"/><rect x="40" y="222" width="12" height="12" fill="#f18a2f"/><rect x="52" y="222" width="12" height="12" fill="#f18a2f"/><rect x="64" y="222" width="12" height="12" fill="#f08a30"/><rect x="76" y="222" width="12" height="12" fill="#f18a30"/><rect x="88" y="222" width="12" height="12" fill="#f18a30"/><rect x="100" y="222" width="12" height="12" fill="#ee8a31"/><rect x="112" y="222" width="12" height="12" fill="#e48c36"/><rect x="124" y="222" width="12" height="12" fill="#d38f3d"/><rect x="136" y="222" width="12" height="12" fill="#bd9247"/><rect x="148" y="222" width="12" height="12" fill="#a69552"/><rect x="160" y="222" width="12" height="12" fill="#90975e"/><rect x="40" y="234" width="12" height="12" fill="#f18a2f"/><rect x="52" y="234" width="12" height="12" fill="#f08a30"/><rect x="64" y="234" width="12" height="12" fill="#f08a30"/><rect x="76" y="234" width="12" height="12" fill="#f18a2f"/><rect x="88" y="234" width="12" height="12" fill="#f3892f"/><rect x="100" y="234" width="12" height="12" fill="#f28a2f"/><rect x="112" y="234" width="12" height="12" fill="#e78c34"/><rect x="124" y="234" width="12" height="12" fill="#d3903c"/><rect x="136" y="234" width="12" height="12" fill="#ba9446"/><rect x="148" y="234" width="12" height="12" fill="#a09752"/><rect x="160" y="234" width="12" height="12" fill="#87995f"/><rect x="172" y="234" width="12" height="12" fill="#729a6d"/><rect x="40" y="246" width="12" height="12" fill="#f08a2f"/><rect x="52" y="246" width="12" height="12" fill="#f08a30"/><rect x="64" y="246" width="12" height="12" fill="#f08a30"/><rect x="76" y="246" width="12" height="12" fill="#f18a30"/><rect x="88" y="246" width="12" height="12" fill="#f2892e"/><rect x="100" y="246" width="12" height="12" fill="#f18a2e"/><rect x="112" y="246" width="12" height="12" fill="#e68d33"/><rect x="124" y="246" width="12" height="12" fill="#d0923b"/><rect x="136" y="246" width="12" height="12" fill="#b39646"/><rect x="148" y="246" width="12" height="12" fill="#979952"/><rect x="160" y="246" width="12" height="12" fill="#7d9b61"/><rect x="172" y="246" width="12" height="12" fill="#669c71"/><rect x="184" y="246" width="12" height="12" fill="#539d7f"/><rect x="40" y="258" width="12" height="12" fill="#ef8a30"/><rect x="52" y="258" width="12" height="12" fill="#ef8a30"/><rect x="64" y="258" width="12" height="12" fill="#ef8a30"/><rect x="76" y="258" width="12" height="12" fill="#f08a30"/><rect x="88" y="258" width="12" height="12" fill="#f18a2f"/><rect x="100" y="258" width="12" height="12" fill="#f08a2e"/><rect x="112" y="258" width="12" height="12" fill="#e68e33"/><rect x="124" y="258" width="12" height="12" fill="#cd943b"/><rect x="136" y="258" width="12" height="12" fill="#ab9945"/><rect x="148" y="258" width="12" height="12" fill="#8d9b53"/><rect x="160" y="258" width="12" height="12" fill="#719c64"/><rect x="172" y="258" width="12" height="12" fill="#599e76"/><rect x="184" y="258" width="12" height="12" fill="#469e85"/><rect x="196" y="258" width="12" height="12" fill="#399e91"/><rect x="40" y="270" width="12" height="12" fill="#ef8a30"/><rect x="52" y="270" width="12" height="12" fill="#ef8a30"/><rect x="64" y="270" width="12" height="12" fill="#ef8a30"/><rect x="76" y="270" width="12" height="12" fill="#f18a30"/><rect x="88" y="270" width="12" height="12" fill="#f2892f"/><rect x="100" y="270" width="12" height="12" fill="#f08a2f"/><rect x="112" y="270" width="12" height="12" fill="#e58e33"/><rect x="124" y="270" width="12" height="12" fill="#ca943a"/><rect x="136" y="270" width="12" height="12" fill="#a79944"/><rect x="148" y="270" width="12" height="12" fill="#849c54"/><rect x="160" y="270" width="12" height="12" fill="#659e69"/><rect x="172" y="270" width="12" height="12" fill="#4b9f7d"/><rect x="184" y="270" width="12" height="12" fill="#399f8d"/><rect x="196" y="270" width="12" height="12" fill="#2d9f98"/><rect x="208" y="270" width="12" height="12" fill="#259fa1"/><rect x="220" y="270" width="12" height="12" fill="#219fa7"/><rect x="40" y="282" width="12" height="12" fill="#ef8a30"/><rect x="52" y="282" width="12" height="12" fill="#ef8a30"/><rect x="64" y="282" width="12" height="12" fill="#f08a30"/><rect x="76" y="282" width="12" height="12" fill="#f2892f"/><rect x="88" y="282" width="12" height="12" fill="#f3892f"/><rect x="100" y="282" width="12" height="12" fill="#ef8a2f"/><rect x="112" y="282" width="12" height="12" fill="#e28d33"/><rect x="124" y="282" width="12" height="12" fill="#c8933a"/><rect x="136" y="282" width="12" height="12" fill="#a39a45"/><rect x="148" y="282" width="12" height="12" fill="#7b9f59"/><rect x="160" y="282" width="12" height="12" fill="#57a071"/><rect x="172" y="282" width="12" height="12" fill="#3da086"/><rect x="184" y="282" width="12" height="12" fill="#2ca096"/><rect x="196" y="282" width="12" height="12" fill="#23a0a0"/><rect x="208" y="282" width="12" height="12" fill="#1da0a6"/><rect x="220" y="282" width="12" height="12" fill="#1b9fab"/><rect x="232" y="282" width="12" height="12" fill="#199faf"/><rect x="244" y="282" width="12" height="12" fill="#199fb2"/><rect x="256" y="282" width="12" height="12" fill="#199eb6"/><rect x="268" y="282" width="12" height="12" fill="#199dba"/><rect x="40" y="294" width="12" height="12" fill="#ef8a30"/><rect x="52" y="294" width="12" height="12" fill="#ef8a30"/><rect x="64" y="294" width="12" height="12" fill="#f08a30"/><rect x="76" y="294" width="12" height="12" fill="#f38a2f"/><rect x="88" y="294" width="12" height="12" fill="#f38a2f"/><rect x="100" y="294" width="12" height="12" fill="#ee8a30"/><rect x="112" y="294" width="12" height="12" fill="#e08d33"/><rect x="124" y="294" width="12" height="12" fill="#c5933b"/><rect x="136" y="294" width="12" height="12" fill="#9e9d4a"/><rect x="148" y="294" width="12" height="12" fill="#72a160"/><rect x="160" y="294" width="12" height="12" fill="#49a17a"/><rect x="172" y="294" width="12" height="12" fill="#30a090"/><rect x="184" y="294" width="12" height="12" fill="#22a09e"/><rect x="196" y="294" width="12" height="12" fill="#1ba0a5"/><rect x="208" y="294" width="12" height="12" fill="#18a0a9"/><rect x="220" y="294" width="12" height="12" fill="#17a0ac"/><rect x="232" y="294" width="12" height="12" fill="#179faf"/><rect x="244" y="294" width="12" height="12" fill="#179fb3"/><rect x="256" y="294" width="12" height="12" fill="#189eb6"/><rect x="268" y="294" width="12" height="12" fill="#189eba"/><rect x="280" y="294" width="12" height="12" fill="#199dbe"/><rect x="292" y="294" width="12" height="12" fill="#199cc1"/><rect x="304" y="294" width="12" height="12" fill="#1a9bc5"/><rect x="40" y="306" width="12" height="12" fill="#f18a30"/><rect x="52" y="306" width="12" height="12" fill="#f18a30"/><rect x="64" y="306" width="12" height="12" fill="#f38a30"/><rect x="76" y="306" width="12" height="12" fill="#f58a2f"/><rect x="88" y="306" width="12" height="12" fill="#f48a2f"/><rect x="100" y="306" width="12" height="12" fill="#ee8c30"/><rect x="112" y="306" width="12" height="12" fill="#de8e34"/><rect x="124" y="306" width="12" height="12" fill="#c1943d"/><rect x="136" y="306" width="12" height="12" fill="#999c4d"/><rect x="148" y="306" width="12" height="12" fill="#6ba065"/><rect x="160" y="306" width="12" height="12" fill="#40a080"/><rect x="172" y="306" width="12" height="12" fill="#29a095"/><rect x="184" y="306" width="12" height="12" fill="#1da0a3"/><rect x="196" y="306" width="12" height="12" fill="#19a0a7"/><rect x="208" y="306" width="12" height="12" fill="#17a0aa"/><rect x="220" y="306" width="12" height="12" fill="#16a0ac"/><rect x="232" y="306" width="12" height="12" fill="#169faf"/><rect x="244" y="306" width="12" height="12" fill="#179fb2"/><rect x="256" y="306" width="12" height="12" fill="#179eb6"/><rect x="268" y="306" width="12" height="12" fill="#189eba"/><rect x="280" y="306" width="12" height="12" fill="#199dbd"/><rect x="292" y="306" width="12" height="12" fill="#199dc1"/><rect x="304" y="306" width="12" height="12" fill="#1a9cc4"/><rect x="316" y="306" width="12" height="12" fill="#1a9ac9"/><rect x="328" y="306" width="12" height="12" fill="#1b98cd"/><rect x="340" y="306" width="12" height="12" fill="#1c95d2"/><rect x="40" y="318" width="12" height="12" fill="#f28a2f"/><rect x="52" y="318" width="12" height="12" fill="#f38a30"/><rect x="64" y="318" width="12" height="12" fill="#f58a2f"/><rect x="76" y="318" width="12" height="12" fill="#f78b2f"/><rect x="88" y="318" width="12" height="12" fill="#f68b2f"/><rect x="100" y="318" width="12" height="12" fill="#ee8d31"/><rect x="112" y="318" width="12" height="12" fill="#dd9035"/><rect x="124" y="318" width="12" height="12" fill="#c0953e"/><rect x="136" y="318" width="12" height="12" fill="#989a4d"/><rect x="148" y="318" width="12" height="12" fill="#6b9e65"/><rect x="160" y="318" width="12" height="12" fill="#44a07e"/><rect x="172" y="318" width="12" height="12" fill="#2ba092"/><rect x="184" y="318" width="12" height="12" fill="#20a09f"/><rect x="196" y="318" width="12" height="12" fill="#1ba0a4"/><rect x="208" y="318" width="12" height="12" fill="#19a0a7"/><rect x="220" y="318" width="12" height="12" fill="#17a0a9"/><rect x="232" y="318" width="12" height="12" fill="#169fad"/><rect x="244" y="318" width="12" height="12" fill="#179eb1"/><rect x="256" y="318" width="12" height="12" fill="#189eb6"/><rect x="268" y="318" width="12" height="12" fill="#199dba"/><rect x="280" y="318" width="12" height="12" fill="#199dbd"/><rect x="292" y="318" width="12" height="12" fill="#199dc0"/><rect x="304" y="318" width="12" height="12" fill="#1a9cc3"/><rect x="316" y="318" width="12" height="12" fill="#1b9ac8"/><rect x="328" y="318" width="12" height="12" fill="#1b98cc"/><rect x="340" y="318" width="12" height="12" fill="#1c95d1"/><rect x="352" y="318" width="12" height="12" fill="#1d92d6"/><rect x="364" y="318" width="12" height="12" fill="#1e90db"/><rect x="40" y="330" width="12" height="12" fill="#f28a2f"/><rect x="52" y="330" width="12" height="12" fill="#f48a30"/><rect x="64" y="330" width="12" height="12" fill="#f68b30"/><rect x="76" y="330" width="12" height="12" fill="#f78b2f"/><rect x="88" y="330" width="12" height="12" fill="#f68c30"/><rect x="100" y="330" width="12" height="12" fill="#ef8e32"/><rect x="112" y="330" width="12" height="12" fill="#dd9136"/><rect x="124" y="330" width="12" height="12" fill="#c0953d"/><rect x="136" y="330" width="12" height="12" fill="#99994c"/><rect x="148" y="330" width="12" height="12" fill="#6e9d62"/><rect x="160" y="330" width="12" height="12" fill="#499f7a"/><rect x="172" y="330" width="12" height="12" fill="#30a08d"/><rect x="184" y="330" width="12" height="12" fill="#24a09a"/><rect x="196" y="330" width="12" height="12" fill="#20a0a0"/><rect x="208" y="330" width="12" height="12" fill="#1ca0a3"/><rect x="220" y="330" width="12" height="12" fill="#19a0a7"/><rect x="232" y="330" width="12" height="12" fill="#179fab"/><rect x="244" y="330" width="12" height="12" fill="#189eb1"/><rect x="256" y="330" width="12" height="12" fill="#199db6"/><rect x="268" y="330" width="12" height="12" fill="#1a9cba"/><rect x="280" y="330" width="12" height="12" fill="#1a9cbd"/><rect x="292" y="330" width="12" height="12" fill="#1a9cbf"/><rect x="304" y="330" width="12" height="12" fill="#1a9bc3"/><rect x="316" y="330" width="12" height="12" fill="#1b9ac7"/><rect x="328" y="330" width="12" height="12" fill="#1c97cc"/><rect x="340" y="330" width="12" height="12" fill="#1d95d0"/><rect x="352" y="330" width="12" height="12" fill="#1e92d4"/><rect x="364" y="330" width="12" height="12" fill="#1e90d8"/><rect x="376" y="330" width="12" height="12" fill="#1f8ddd"/><rect x="388" y="330" width="12" height="12" fill="#218ae1"/><rect x="400" y="330" width="12" height="12" fill="#2188e5"/><rect x="40" y="342" width="12" height="12" fill="#f28a2f"/><rect x="52" y="342" width="12" height="12" fill="#f38a30"/><rect x="64" y="342" width="12" height="12" fill="#f58b30"/><rect x="76" y="342" width="12" height="12" fill="#f68b30"/><rect x="88" y="342" width="12" height="12" fill="#f68c30"/><rect x="100" y="342" width="12" height="12" fill="#ee8e32"/><rect x="112" y="342" width="12" height="12" fill="#dc9136"/><rect x="124" y="342" width="12" height="12" fill="#bd953e"/><rect x="136" y="342" width="12" height="12" fill="#96994d"/><rect x="148" y="342" width="12" height="12" fill="#6c9d63"/><rect x="160" y="342" width="12" height="12" fill="#49a07a"/><rect x="172" y="342" width="12" height="12" fill="#32a08c"/><rect x="184" y="342" width="12" height="12" fill="#26a098"/><rect x="196" y="342" width="12" height="12" fill="#21a09f"/><rect x="208" y="342" width="12" height="12" fill="#1da0a3"/><rect x="220" y="342" width="12" height="12" fill="#1aa0a7"/><rect x="232" y="342" width="12" height="12" fill="#189fab"/><rect x="244" y="342" width="12" height="12" fill="#199eb1"/><rect x="256" y="342" width="12" height="12" fill="#1a9cb6"/><rect x="268" y="342" width="12" height="12" fill="#1a9bbb"/><rect x="280" y="342" width="12" height="12" fill="#1a9abe"/><rect x="292" y="342" width="12" height="12" fill="#1a9ac1"/><rect x="304" y="342" width="12" height="12" fill="#1b9ac4"/><rect x="316" y="342" width="12" height="12" fill="#1c98c8"/><rect x="328" y="342" width="12" height="12" fill="#1d96cc"/><rect x="340" y="342" width="12" height="12" fill="#1d94d0"/><rect x="352" y="342" width="12" height="12" fill="#1e92d3"/><rect x="364" y="342" width="12" height="12" fill="#1f91d6"/><rect x="376" y="342" width="12" height="12" fill="#1f8ed9"/><rect x="388" y="342" width="12" height="12" fill="#218bdd"/><rect x="400" y="342" width="12" height="12" fill="#2388e1"/><rect x="412" y="342" width="12" height="12" fill="#2386e5"/><rect x="424" y="342" width="12" height="12" fill="#2285e8"/><rect x="40" y="354" width="12" height="12" fill="#f28a2f"/><rect x="52" y="354" width="12" height="12" fill="#f28a30"/><rect x="64" y="354" width="12" height="12" fill="#f38b30"/><rect x="76" y="354" width="12" height="12" fill="#f48b30"/><rect x="88" y="354" width="12" height="12" fill="#f48c31"/><rect x="100" y="354" width="12" height="12" fill="#ec8d32"/><rect x="112" y="354" width="12" height="12" fill="#d99037"/><rect x="124" y="354" width="12" height="12" fill="#b89640"/><rect x="136" y="354" width="12" height="12" fill="#8e9b51"/><rect x="148" y="354" width="12" height="12" fill="#649e68"/><rect x="160" y="354" width="12" height="12" fill="#43a07f"/><rect x="172" y="354" width="12" height="12" fill="#2ea091"/><rect x="184" y="354" width="12" height="12" fill="#23a09b"/><rect x="196" y="354" width="12" height="12" fill="#1ea0a1"/><rect x="208" y="354" width="12" height="12" fill="#1ca0a5"/><rect x="220" y="354" width="12" height="12" fill="#1aa0aa"/><rect x="232" y="354" width="12" height="12" fill="#199fae"/><rect x="244" y="354" width="12" height="12" fill="#199eb2"/><rect x="256" y="354" width="12" height="12" fill="#199cb7"/><rect x="268" y="354" width="12" height="12" fill="#1a9abc"/><rect x="280" y="354" width="12" height="12" fill="#1a98c0"/><rect x="292" y="354" width="12" height="12" fill="#1b98c3"/><rect x="304" y="354" width="12" height="12" fill="#1c97c6"/><rect x="316" y="354" width="12" height="12" fill="#1d96c9"/><rect x="328" y="354" width="12" height="12" fill="#1e95cc"/><rect x="340" y="354" width="12" height="12" fill="#1e93d0"/><rect x="352" y="354" width="12" height="12" fill="#1f92d2"/><rect x="364" y="354" width="12" height="12" fill="#1e91d3"/><rect x="376" y="354" width="12" height="12" fill="#1e91d5"/><rect x="388" y="354" width="12" height="12" fill="#208dd8"/><rect x="400" y="354" width="12" height="12" fill="#2389dd"/><rect x="412" y="354" width="12" height="12" fill="#2487e0"/><rect x="424" y="354" width="12" height="12" fill="#2387e2"/><rect x="436" y="354" width="12" height="12" fill="#2188e4"/><rect x="448" y="354" width="12" height="12" fill="#1e89e5"/><rect x="40" y="366" width="12" height="12" fill="#f28a2f"/><rect x="52" y="366" width="12" height="12" fill="#f08a30"/><rect x="64" y="366" width="12" height="12" fill="#f08a30"/><rect x="76" y="366" width="12" height="12" fill="#f28a30"/><rect x="88" y="366" width="12" height="12" fill="#f18b30"/><rect x="100" y="366" width="12" height="12" fill="#ec8c33"/><rect x="112" y="366" width="12" height="12" fill="#d68e39"/><rect x="124" y="366" width="12" height="12" fill="#b29743"/><rect x="136" y="366" width="12" height="12" fill="#859f55"/><rect x="148" y="366" width="12" height="12" fill="#55a06f"/><rect x="160" y="366" width="12" height="12" fill="#38a089"/><rect x="172" y="366" width="12" height="12" fill="#27a098"/><rect x="184" y="366" width="12" height="12" fill="#1ea0a0"/><rect x="196" y="366" width="12" height="12" fill="#1ba0a5"/><rect x="208" y="366" width="12" height="12" fill="#19a0a9"/><rect x="220" y="366" width="12" height="12" fill="#19a0ae"/><rect x="232" y="366" width="12" height="12" fill="#189fb1"/><rect x="244" y="366" width="12" height="12" fill="#199eb4"/><rect x="256" y="366" width="12" height="12" fill="#199cb8"/><rect x="268" y="366" width="12" height="12" fill="#1a99be"/><rect x="280" y="366" width="12" height="12" fill="#1b96c3"/><rect x="292" y="366" width="12" height="12" fill="#1c95c7"/><rect x="304" y="366" width="12" height="12" fill="#1d94ca"/><rect x="316" y="366" width="12" height="12" fill="#1e94cc"/><rect x="328" y="366" width="12" height="12" fill="#1f93ce"/><rect x="340" y="366" width="12" height="12" fill="#1f91d1"/><rect x="352" y="366" width="12" height="12" fill="#1f91d2"/><rect x="364" y="366" width="12" height="12" fill="#1e92d1"/><rect x="376" y="366" width="12" height="12" fill="#1c94ce"/><rect x="388" y="366" width="12" height="12" fill="#1e92d0"/><rect x="400" y="366" width="12" height="12" fill="#238cd7"/><rect x="412" y="366" width="12" height="12" fill="#248ada"/><rect x="424" y="366" width="12" height="12" fill="#238adb"/><rect x="436" y="366" width="12" height="12" fill="#208bdc"/><rect x="448" y="366" width="12" height="12" fill="#1d8cdd"/><rect x="460" y="366" width="12" height="12" fill="#1b8ede"/><rect x="472" y="366" width="12" height="12" fill="#198fde"/><rect x="40" y="378" width="12" height="12" fill="#f28a2e"/><rect x="52" y="378" width="12" height="12" fill="#f18a2f"/><rect x="64" y="378" width="12" height="12" fill="#f18a2f"/><rect x="76" y="378" width="12" height="12" fill="#f3892f"/><rect x="88" y="378" width="12" height="12" fill="#f28a2f"/><rect x="100" y="378" width="12" height="12" fill="#ec8b32"/><rect x="112" y="378" width="12" height="12" fill="#d28e3a"/><rect x="124" y="378" width="12" height="12" fill="#a99747"/><rect x="136" y="378" width="12" height="12" fill="#78a15b"/><rect x="148" y="378" width="12" height="12" fill="#46a078"/><rect x="160" y="378" width="12" height="12" fill="#2ca092"/><rect x="172" y="378" width="12" height="12" fill="#1fa09e"/><rect x="184" y="378" width="12" height="12" fill="#19a0a4"/><rect x="196" y="378" width="12" height="12" fill="#17a0a8"/><rect x="208" y="378" width="12" height="12" fill="#17a0ac"/><rect x="220" y="378" width="12" height="12" fill="#18a0b1"/><rect x="232" y="378" width="12" height="12" fill="#18a0b4"/><rect x="244" y="378" width="12" height="12" fill="#199eb7"/><rect x="256" y="378" width="12" height="12" fill="#1a9bbc"/><rect x="268" y="378" width="12" height="12" fill="#1c96c3"/><rect x="280" y="378" width="12" height="12" fill="#1d93c9"/><rect x="292" y="378" width="12" height="12" fill="#1e92cc"/><rect x="304" y="378" width="12" height="12" fill="#1f91ce"/><rect x="316" y="378" width="12" height="12" fill="#1f91d0"/><rect x="328" y="378" width="12" height="12" fill="#2091d1"/><rect x="340" y="378" width="12" height="12" fill="#2090d2"/><rect x="352" y="378" width="12" height="12" fill="#2090d2"/><rect x="364" y="378" width="12" height="12" fill="#1f92cf"/><rect x="376" y="378" width="12" height="12" fill="#1b97c8"/><rect x="388" y="378" width="12" height="12" fill="#1a99c5"/><rect x="400" y="378" width="12" height="12" fill="#1f92cd"/><rect x="412" y="378" width="12" height="12" fill="#218fd1"/><rect x="424" y="378" width="12" height="12" fill="#218ed3"/><rect x="436" y="378" width="12" height="12" fill="#1f8fd3"/><rect x="448" y="378" width="12" height="12" fill="#1c91d3"/><rect x="460" y="378" width="12" height="12" fill="#1a92d5"/><rect x="472" y="378" width="12" height="12" fill="#1893d6"/><rect x="484" y="378" width="12" height="12" fill="#1894d5"/><rect x="496" y="378" width="12" height="12" fill="#1995d1"/><rect x="40" y="390" width="12" height="12" fill="#f5892d"/><rect x="52" y="390" width="12" height="12" fill="#f4892e"/><rect x="64" y="390" width="12" height="12" fill="#f6892d"/><rect x="76" y="390" width="12" height="12" fill="#f7882c"/><rect x="88" y="390" width="12" height="12" fill="#f6892d"/><rect x="100" y="390" width="12" height="12" fill="#ea8b31"/><rect x="112" y="390" width="12" height="12" fill="#cc903b"/><rect x="124" y="390" width="12" height="12" fill="#9e994d"/><rect x="136" y="390" width="12" height="12" fill="#689f66"/><rect x="148" y="390" width="12" height="12" fill="#3ba082"/><rect x="160" y="390" width="12" height="12" fill="#23a096"/><rect x="172" y="390" width="12" height="12" fill="#19a0a1"/><rect x="184" y="390" width="12" height="12" fill="#15a0a6"/><rect x="196" y="390" width="12" height="12" fill="#15a1aa"/><rect x="208" y="390" width="12" height="12" fill="#16a1ad"/><rect x="220" y="390" width="12" height="12" fill="#17a0b2"/><rect x="232" y="390" width="12" height="12" fill="#18a0b6"/><rect x="244" y="390" width="12" height="12" fill="#199dbb"/><rect x="256" y="390" width="12" height="12" fill="#1b98c2"/><rect x="268" y="390" width="12" height="12" fill="#1e93ca"/><rect x="280" y="390" width="12" height="12" fill="#2090cf"/><rect x="292" y="390" width="12" height="12" fill="#208fd2"/><rect x="304" y="390" width="12" height="12" fill="#208fd3"/><rect x="316" y="390" width="12" height="12" fill="#218fd3"/><rect x="328" y="390" width="12" height="12" fill="#218fd3"/><rect x="340" y="390" width="12" height="12" fill="#208fd2"/><rect x="352" y="390" width="12" height="12" fill="#2090d0"/><rect x="364" y="390" width="12" height="12" fill="#1e92cc"/><rect x="376" y="390" width="12" height="12" fill="#1b98c3"/><rect x="388" y="390" width="12" height="12" fill="#1a9abf"/><rect x="400" y="390" width="12" height="12" fill="#1c98c2"/><rect x="412" y="390" width="12" height="12" fill="#1d95c9"/><rect x="424" y="390" width="12" height="12" fill="#1d94cb"/><rect x="436" y="390" width="12" height="12" fill="#1b95c8"/><rect x="448" y="390" width="12" height="12" fill="#1a96c7"/><rect x="460" y="390" width="12" height="12" fill="#1896ca"/><rect x="472" y="390" width="12" height="12" fill="#1896cc"/><rect x="484" y="390" width="12" height="12" fill="#1997cb"/><rect x="496" y="390" width="12" height="12" fill="#1b98c6"/><rect x="508" y="390" width="12" height="12" fill="#1e98c0"/><rect x="520" y="390" width="12" height="12" fill="#2199ba"/><rect x="40" y="402" width="12" height="12" fill="#f6892d"/><rect x="52" y="402" width="12" height="12" fill="#f7882d"/><rect x="64" y="402" width="12" height="12" fill="#f9882c"/><rect x="76" y="402" width="12" height="12" fill="#fb872b"/><rect x="88" y="402" width="12" height="12" fill="#f9882b"/><rect x="100" y="402" width="12" height="12" fill="#ec8b2f"/><rect x="112" y="402" width="12" height="12" fill="#c9923a"/><rect x="124" y="402" width="12" height="12" fill="#969b4f"/><rect x="136" y="402" width="12" height="12" fill="#5b9f6f"/><rect x="148" y="402" width="12" height="12" fill="#2fa08b"/><rect x="160" y="402" width="12" height="12" fill="#1ca09b"/><rect x="172" y="402" width="12" height="12" fill="#16a0a2"/><rect x="184" y="402" width="12" height="12" fill="#14a1a7"/><rect x="196" y="402" width="12" height="12" fill="#14a1aa"/><rect x="208" y="402" width="12" height="12" fill="#16a1ae"/><rect x="220" y="402" width="12" height="12" fill="#18a0b2"/><rect x="232" y="402" width="12" height="12" fill="#199fb8"/><rect x="244" y="402" width="12" height="12" fill="#1a9dbe"/><rect x="256" y="402" width="12" height="12" fill="#1d97c7"/><rect x="268" y="402" width="12" height="12" fill="#2090d0"/><rect x="280" y="402" width="12" height="12" fill="#218ed4"/><rect x="292" y="402" width="12" height="12" fill="#218dd5"/><rect x="304" y="402" width="12" height="12" fill="#218ed6"/><rect x="316" y="402" width="12" height="12" fill="#218ed6"/><rect x="328" y="402" width="12" height="12" fill="#218ed4"/><rect x="340" y="402" width="12" height="12" fill="#208fd2"/><rect x="352" y="402" width="12" height="12" fill="#1f91ce"/><rect x="364" y="402" width="12" height="12" fill="#1d94c7"/><rect x="376" y="402" width="12" height="12" fill="#1b99be"/><rect x="388" y="402" width="12" height="12" fill="#1a9cb9"/><rect x="400" y="402" width="12" height="12" fill="#1a9cb9"/><rect x="412" y="402" width="12" height="12" fill="#1a9ac3"/><rect x="424" y="402" width="12" height="12" fill="#1999c4"/><rect x="436" y="402" width="12" height="12" fill="#199bba"/><rect x="448" y="402" width="12" height="12" fill="#189cb7"/><rect x="460" y="402" width="12" height="12" fill="#189bbc"/><rect x="472" y="402" width="12" height="12" fill="#199ac1"/><rect x="484" y="402" width="12" height="12" fill="#1b9abe"/><rect x="496" y="402" width="12" height="12" fill="#1f9bb7"/><rect x="508" y="402" width="12" height="12" fill="#239bb1"/><rect x="520" y="402" width="12" height="12" fill="#279bac"/><rect x="532" y="402" width="12" height="12" fill="#299ca9"/><rect x="544" y="402" width="12" height="12" fill="#2b9da5"/><rect x="40" y="414" width="12" height="12" fill="#f7892c"/><rect x="52" y="414" width="12" height="12" fill="#f7882d"/><rect x="64" y="414" width="12" height="12" fill="#f9882c"/><rect x="76" y="414" width="12" height="12" fill="#fa882b"/><rect x="88" y="414" width="12" height="12" fill="#f8882b"/><rect x="100" y="414" width="12" height="12" fill="#ec8b2f"/><rect x="112" y="414" width="12" height="12" fill="#c7943b"/><rect x="124" y="414" width="12" height="12" fill="#939d4f"/><rect x="136" y="414" width="12" height="12" fill="#58a170"/><rect x="148" y="414" width="12" height="12" fill="#2ca08e"/><rect x="160" y="414" width="12" height="12" fill="#1ba09d"/><rect x="172" y="414" width="12" height="12" fill="#16a0a3"/><rect x="184" y="414" width="12" height="12" fill="#13a1a7"/><rect x="196" y="414" width="12" height="12" fill="#14a1aa"/><rect x="208" y="414" width="12" height="12" fill="#17a1ad"/><rect x="220" y="414" width="12" height="12" fill="#199fb3"/><rect x="232" y="414" width="12" height="12" fill="#1a9dbb"/><rect x="244" y="414" width="12" height="12" fill="#1c9ac3"/><rect x="256" y="414" width="12" height="12" fill="#1e95cb"/><rect x="268" y="414" width="12" height="12" fill="#2091d2"/><rect x="280" y="414" width="12" height="12" fill="#218fd5"/><rect x="292" y="414" width="12" height="12" fill="#218ed6"/><rect x="304" y="414" width="12" height="12" fill="#218ed6"/><rect x="316" y="414" width="12" height="12" fill="#218ed6"/><rect x="328" y="414" width="12" height="12" fill="#218ed5"/><rect x="340" y="414" width="12" height="12" fill="#218fd3"/><rect x="352" y="414" width="12" height="12" fill="#1f92cc"/><rect x="364" y="414" width="12" height="12" fill="#1c96c3"/><rect x="376" y="414" width="12" height="12" fill="#1a9aba"/><rect x="388" y="414" width="12" height="12" fill="#189db4"/><rect x="400" y="414" width="12" height="12" fill="#199db7"/><rect x="412" y="414" width="12" height="12" fill="#199cc0"/><rect x="424" y="414" width="12" height="12" fill="#199cbe"/><rect x="436" y="414" width="12" height="12" fill="#189fad"/><rect x="448" y="414" width="12" height="12" fill="#18a0a8"/><rect x="460" y="414" width="12" height="12" fill="#199ead"/><rect x="472" y="414" width="12" height="12" fill="#1a9db0"/><rect x="484" y="414" width="12" height="12" fill="#1e9daa"/><rect x="496" y="414" width="12" height="12" fill="#259da4"/><rect x="508" y="414" width="12" height="12" fill="#2c9da0"/><rect x="520" y="414" width="12" height="12" fill="#309d9c"/><rect x="532" y="414" width="12" height="12" fill="#329e9a"/><rect x="544" y="414" width="12" height="12" fill="#339e99"/><rect x="556" y="414" width="12" height="12" fill="#349f96"/><rect x="40" y="426" width="12" height="12" fill="#f6892d"/><rect x="52" y="426" width="12" height="12" fill="#f5892e"/><rect x="64" y="426" width="12" height="12" fill="#f4892e"/><rect x="76" y="426" width="12" height="12" fill="#f4892e"/><rect x="88" y="426" width="12" height="12" fill="#f08a2f"/><rect x="100" y="426" width="12" height="12" fill="#e08e34"/><rect x="112" y="426" width="12" height="12" fill="#be9540"/><rect x="124" y="426" width="12" height="12" fill="#909d54"/><rect x="136" y="426" width="12" height="12" fill="#5ea070"/><rect x="148" y="426" width="12" height="12" fill="#36a08b"/><rect x="160" y="426" width="12" height="12" fill="#20a09c"/><rect x="172" y="426" width="12" height="12" fill="#17a0a4"/><rect x="184" y="426" width="12" height="12" fill="#13a1a9"/><rect x="196" y="426" width="12" height="12" fill="#14a1ab"/><rect x="208" y="426" width="12" height="12" fill="#17a1ae"/><rect x="220" y="426" width="12" height="12" fill="#1a9db6"/><rect x="232" y="426" width="12" height="12" fill="#1c99c0"/><rect x="244" y="426" width="12" height="12" fill="#1e96c8"/><rect x="256" y="426" width="12" height="12" fill="#1f93ce"/><rect x="268" y="426" width="12" height="12" fill="#2091d1"/><rect x="280" y="426" width="12" height="12" fill="#2091d3"/><rect x="292" y="426" width="12" height="12" fill="#1f91d3"/><rect x="304" y="426" width="12" height="12" fill="#1f91d2"/><rect x="316" y="426" width="12" height="12" fill="#1f90d2"/><rect x="328" y="426" width="12" height="12" fill="#2090d2"/><rect x="340" y="426" width="12" height="12" fill="#2090d0"/><rect x="352" y="426" width="12" height="12" fill="#1e94c8"/><rect x="364" y="426" width="12" height="12" fill="#1a99bd"/><rect x="376" y="426" width="12" height="12" fill="#189db4"/><rect x="388" y="426" width="12" height="12" fill="#179eaf"/><rect x="400" y="426" width="12" height="12" fill="#189eb1"/><rect x="412" y="426" width="12" height="12" fill="#199dbb"/><rect x="424" y="426" width="12" height="12" fill="#1a9dba"/><rect x="436" y="426" width="12" height="12" fill="#1ba0aa"/><rect x="448" y="426" width="12" height="12" fill="#1da1a1"/><rect x="460" y="426" width="12" height="12" fill="#1fa09e"/><rect x="472" y="426" width="12" height="12" fill="#20a09a"/><rect x="484" y="426" width="12" height="12" fill="#25a094"/><rect x="496" y="426" width="12" height="12" fill="#2f9f91"/><rect x="508" y="426" width="12" height="12" fill="#389f8e"/><rect x="520" y="426" width="12" height="12" fill="#3c9f8d"/><rect x="532" y="426" width="12" height="12" fill="#3c9f8c"/><rect x="544" y="426" width="12" height="12" fill="#3b9f8c"/><rect x="556" y="426" width="12" height="12" fill="#3ca08b"/><rect x="568" y="426" width="12" height="12" fill="#3fa089"/><rect x="580" y="426" width="12" height="12" fill="#44a086"/><rect x="40" y="438" width="12" height="12" fill="#f48a2e"/><rect x="52" y="438" width="12" height="12" fill="#f18a2f"/><rect x="64" y="438" width="12" height="12" fill="#ee8a31"/><rect x="76" y="438" width="12" height="12" fill="#eb8b32"/><rect x="88" y="438" width="12" height="12" fill="#e38d35"/><rect x="100" y="438" width="12" height="12" fill="#d1903c"/><rect x="112" y="438" width="12" height="12" fill="#b39648"/><rect x="124" y="438" width="12" height="12" fill="#8c9b5b"/><rect x="136" y="438" width="12" height="12" fill="#639e72"/><rect x="148" y="438" width="12" height="12" fill="#40a088"/><rect x="160" y="438" width="12" height="12" fill="#28a09a"/><rect x="172" y="438" width="12" height="12" fill="#1ba0a5"/><rect x="184" y="438" width="12" height="12" fill="#16a0ab"/><rect x="196" y="438" width="12" height="12" fill="#15a0af"/><rect x="208" y="438" width="12" height="12" fill="#189fb3"/><rect x="220" y="438" width="12" height="12" fill="#1b9abc"/><rect x="232" y="438" width="12" height="12" fill="#1e95c6"/><rect x="244" y="438" width="12" height="12" fill="#1f92cd"/><rect x="256" y="438" width="12" height="12" fill="#2092cf"/><rect x="268" y="438" width="12" height="12" fill="#1f92d0"/><rect x="280" y="438" width="12" height="12" fill="#1f93cf"/><rect x="292" y="438" width="12" height="12" fill="#1d94cd"/><rect x="304" y="438" width="12" height="12" fill="#1d94cb"/><rect x="316" y="438" width="12" height="12" fill="#1d94ca"/><rect x="328" y="438" width="12" height="12" fill="#1d94c9"/><rect x="340" y="438" width="12" height="12" fill="#1c95c5"/><rect x="352" y="438" width="12" height="12" fill="#1a98bd"/><rect x="364" y="438" width="12" height="12" fill="#189db2"/><rect x="376" y="438" width="12" height="12" fill="#179fab"/><rect x="388" y="438" width="12" height="12" fill="#16a0a9"/><rect x="400" y="438" width="12" height="12" fill="#179fa6"/><rect x="412" y="438" width="12" height="12" fill="#199eab"/><rect x="424" y="438" width="12" height="12" fill="#1c9eac"/><rect x="436" y="438" width="12" height="12" fill="#1fa0a3"/><rect x="448" y="438" width="12" height="12" fill="#24a09b"/><rect x="460" y="438" width="12" height="12" fill="#2aa094"/><rect x="472" y="438" width="12" height="12" fill="#2da18d"/><rect x="484" y="438" width="12" height="12" fill="#34a186"/><rect x="496" y="438" width="12" height="12" fill="#3ea082"/><rect x="508" y="438" width="12" height="12" fill="#48a07f"/><rect x="520" y="438" width="12" height="12" fill="#4aa07e"/><rect x="532" y="438" width="12" height="12" fill="#47a07f"/><rect x="544" y="438" width="12" height="12" fill="#45a080"/><rect x="556" y="438" width="12" height="12" fill="#45a07f"/><rect x="568" y="438" width="12" height="12" fill="#49a17d"/><rect x="580" y="438" width="12" height="12" fill="#4fa17a"/><rect x="592" y="438" width="12" height="12" fill="#56a177"/><rect x="604" y="438" width="12" height="12" fill="#5da074"/><rect x="40" y="450" width="12" height="12" fill="#f28a2e"/><rect x="52" y="450" width="12" height="12" fill="#ee8b31"/><rect x="64" y="450" width="12" height="12" fill="#e98b33"/><rect x="76" y="450" width="12" height="12" fill="#e28d36"/><rect x="88" y="450" width="12" height="12" fill="#d78f3b"/><rect x="100" y="450" width="12" height="12" fill="#c59243"/><rect x="112" y="450" width="12" height="12" fill="#aa964f"/><rect x="124" y="450" width="12" height="12" fill="#899a60"/><rect x="136" y="450" width="12" height="12" fill="#679d74"/><rect x="148" y="450" width="12" height="12" fill="#489e87"/><rect x="160" y="450" width="12" height="12" fill="#319f98"/><rect x="172" y="450" width="12" height="12" fill="#229fa5"/><rect x="184" y="450" width="12" height="12" fill="#1b9fad"/><rect x="196" y="450" width="12" height="12" fill="#199eb3"/><rect x="208" y="450" width="12" height="12" fill="#199cb9"/><rect x="220" y="450" width="12" height="12" fill="#1c97c2"/><rect x="232" y="450" width="12" height="12" fill="#1f92cc"/><rect x="244" y="450" width="12" height="12" fill="#2091d0"/><rect x="256" y="450" width="12" height="12" fill="#2093ce"/><rect x="268" y="450" width="12" height="12" fill="#1f94cd"/><rect x="280" y="450" width="12" height="12" fill="#1d96ca"/><rect x="292" y="450" width="12" height="12" fill="#1b98c4"/><rect x="304" y="450" width="12" height="12" fill="#1a99c0"/><rect x="316" y="450" width="12" height="12" fill="#1b99bd"/><rect x="328" y="450" width="12" height="12" fill="#1a98bb"/><rect x="340" y="450" width="12" height="12" fill="#1999b7"/><rect x="352" y="450" width="12" height="12" fill="#189cb0"/><rect x="364" y="450" width="12" height="12" fill="#199fa7"/><rect x="376" y="450" width="12" height="12" fill="#1aa1a1"/><rect x="388" y="450" width="12" height="12" fill="#18a0a4"/><rect x="400" y="450" width="12" height="12" fill="#18a0a3"/><rect x="412" y="450" width="12" height="12" fill="#1c9f9f"/><rect x="424" y="450" width="12" height="12" fill="#209f9d"/><rect x="436" y="450" width="12" height="12" fill="#27a097"/><rect x="448" y="450" width="12" height="12" fill="#2ea091"/><rect x="460" y="450" width="12" height="12" fill="#35a08a"/><rect x="472" y="450" width="12" height="12" fill="#3ca083"/><rect x="484" y="450" width="12" height="12" fill="#44a07c"/><rect x="496" y="450" width="12" height="12" fill="#4ca077"/><rect x="508" y="450" width="12" height="12" fill="#53a074"/><rect x="520" y="450" width="12" height="12" fill="#54a073"/><rect x="532" y="450" width="12" height="12" fill="#54a073"/><rect x="544" y="450" width="12" height="12" fill="#50a074"/><rect x="556" y="450" width="12" height="12" fill="#50a174"/><rect x="568" y="450" width="12" height="12" fill="#55a172"/><rect x="580" y="450" width="12" height="12" fill="#5ca16e"/><rect x="592" y="450" width="12" height="12" fill="#64a16b"/><rect x="604" y="450" width="12" height="12" fill="#6ca069"/><rect x="616" y="450" width="12" height="12" fill="#73a067"/><rect x="112" y="462" width="12" height="12" fill="#a49555"/><rect x="124" y="462" width="12" height="12" fill="#889864"/><rect x="136" y="462" width="12" height="12" fill="#6b9b76"/><rect x="148" y="462" width="12" height="12" fill="#509c87"/><rect x="160" y="462" width="12" height="12" fill="#3b9d97"/><rect x="172" y="462" width="12" height="12" fill="#2b9da4"/><rect x="184" y="462" width="12" height="12" fill="#229dae"/><rect x="196" y="462" width="12" height="12" fill="#1d9cb6"/><rect x="208" y="462" width="12" height="12" fill="#1c99be"/><rect x="220" y="462" width="12" height="12" fill="#1d96c6"/><rect x="232" y="462" width="12" height="12" fill="#1e94cb"/><rect x="244" y="462" width="12" height="12" fill="#1e96ca"/><rect x="256" y="462" width="12" height="12" fill="#1f97ca"/><rect x="268" y="462" width="12" height="12" fill="#1f96ca"/><rect x="280" y="462" width="12" height="12" fill="#1d97c5"/><rect x="292" y="462" width="12" height="12" fill="#1a9bbb"/><rect x="304" y="462" width="12" height="12" fill="#189db3"/><rect x="316" y="462" width="12" height="12" fill="#189daf"/><rect x="328" y="462" width="12" height="12" fill="#199dac"/><rect x="340" y="462" width="12" height="12" fill="#189da8"/><rect x="352" y="462" width="12" height="12" fill="#1b9fa3"/><rect x="364" y="462" width="12" height="12" fill="#1fa09b"/><rect x="376" y="462" width="12" height="12" fill="#25a192"/><rect x="388" y="462" width="12" height="12" fill="#2aa08d"/><rect x="400" y="462" width="12" height="12" fill="#27a093"/><rect x="412" y="462" width="12" height="12" fill="#28a090"/><rect x="424" y="462" width="12" height="12" fill="#2ca08d"/><rect x="436" y="462" width="12" height="12" fill="#33a088"/><rect x="448" y="462" width="12" height="12" fill="#3ba083"/><rect x="460" y="462" width="12" height="12" fill="#43a07e"/><rect x="472" y="462" width="12" height="12" fill="#4ca078"/><rect x="484" y="462" width="12" height="12" fill="#54a072"/><rect x="496" y="462" width="12" height="12" fill="#5aa06d"/><rect x="508" y="462" width="12" height="12" fill="#5da06b"/><rect x="520" y="462" width="12" height="12" fill="#5ea069"/><rect x="532" y="462" width="12" height="12" fill="#67a065"/><rect x="544" y="462" width="12" height="12" fill="#5fa069"/><rect x="556" y="462" width="12" height="12" fill="#5fa169"/><rect x="568" y="462" width="12" height="12" fill="#66a166"/><rect x="580" y="462" width="12" height="12" fill="#6ea162"/><rect x="592" y="462" width="12" height="12" fill="#76a05f"/><rect x="604" y="462" width="12" height="12" fill="#7c9f5d"/><rect x="616" y="462" width="12" height="12" fill="#829f5c"/><rect x="628" y="462" width="12" height="12" fill="#889e5b"/><rect x="640" y="462" width="12" height="12" fill="#8e9d5b"/><rect x="136" y="474" width="12" height="12" fill="#6f9977"/><rect x="148" y="474" width="12" height="12" fill="#589a87"/><rect x="160" y="474" width="12" height="12" fill="#449b95"/><rect x="172" y="474" width="12" height="12" fill="#359ba2"/><rect x="184" y="474" width="12" height="12" fill="#2a9bae"/><rect x="196" y="474" width="12" height="12" fill="#2399b8"/><rect x="208" y="474" width="12" height="12" fill="#1f97c1"/><rect x="220" y="474" width="12" height="12" fill="#1e95c8"/><rect x="232" y="474" width="12" height="12" fill="#1e95cb"/><rect x="244" y="474" width="12" height="12" fill="#1e96ca"/><rect x="256" y="474" width="12" height="12" fill="#1f97ca"/><rect x="268" y="474" width="12" height="12" fill="#1f97c7"/><rect x="280" y="474" width="12" height="12" fill="#1e98c0"/><rect x="292" y="474" width="12" height="12" fill="#199db1"/><rect x="304" y="474" width="12" height="12" fill="#18a0a5"/><rect x="316" y="474" width="12" height="12" fill="#1ba19e"/><rect x="328" y="474" width="12" height="12" fill="#1ea09b"/><rect x="340" y="474" width="12" height="12" fill="#20a098"/><rect x="352" y="474" width="12" height="12" fill="#25a094"/><rect x="364" y="474" width="12" height="12" fill="#2ba08f"/><rect x="376" y="474" width="12" height="12" fill="#34a086"/><rect x="388" y="474" width="12" height="12" fill="#3da17e"/><rect x="400" y="474" width="12" height="12" fill="#40a07c"/><rect x="412" y="474" width="12" height="12" fill="#40a07c"/><rect x="424" y="474" width="12" height="12" fill="#42a07a"/><rect x="436" y="474" width="12" height="12" fill="#48a177"/><rect x="448" y="474" width="12" height="12" fill="#4ea273"/><rect x="460" y="474" width="12" height="12" fill="#56a26f"/><rect x="472" y="474" width="12" height="12" fill="#5fa16a"/><rect x="484" y="474" width="12" height="12" fill="#67a066"/><rect x="496" y="474" width="12" height="12" fill="#6d9f62"/><rect x="508" y="474" width="12" height="12" fill="#709e5f"/><rect x="520" y="474" width="12" height="12" fill="#759e5c"/><rect x="532" y="474" width="12" height="12" fill="#7c9f59"/><rect x="544" y="474" width="12" height="12" fill="#77a05b"/><rect x="556" y="474" width="12" height="12" fill="#78a15c"/><rect x="568" y="474" width="12" height="12" fill="#7da159"/><rect x="580" y="474" width="12" height="12" fill="#84a056"/><rect x="592" y="474" width="12" height="12" fill="#8a9e53"/><rect x="604" y="474" width="12" height="12" fill="#8f9e51"/><rect x="616" y="474" width="12" height="12" fill="#939d51"/><rect x="628" y="474" width="12" height="12" fill="#989d52"/><rect x="640" y="474" width="12" height="12" fill="#9d9c52"/><rect x="652" y="474" width="12" height="12" fill="#a29a52"/><rect x="160" y="486" width="12" height="12" fill="#4d9993"/><rect x="172" y="486" width="12" height="12" fill="#3e99a0"/><rect x="184" y="486" width="12" height="12" fill="#3398ac"/><rect x="196" y="486" width="12" height="12" fill="#2a97b7"/><rect x="208" y="486" width="12" height="12" fill="#2495c1"/><rect x="220" y="486" width="12" height="12" fill="#2194c9"/><rect x="232" y="486" width="12" height="12" fill="#1f92ce"/><rect x="244" y="486" width="12" height="12" fill="#2092cf"/><rect x="256" y="486" width="12" height="12" fill="#2094cc"/><rect x="268" y="486" width="12" height="12" fill="#1e98c4"/><rect x="280" y="486" width="12" height="12" fill="#1c9cb6"/><rect x="292" y="486" width="12" height="12" fill="#1ba0a5"/><rect x="304" y="486" width="12" height="12" fill="#1fa295"/><rect x="316" y="486" width="12" height="12" fill="#28a28c"/><rect x="328" y="486" width="12" height="12" fill="#31a286"/><rect x="340" y="486" width="12" height="12" fill="#37a183"/><rect x="352" y="486" width="12" height="12" fill="#3ca182"/><rect x="364" y="486" width="12" height="12" fill="#42a07f"/><rect x="376" y="486" width="12" height="12" fill="#4ba078"/><rect x="388" y="486" width="12" height="12" fill="#58a16e"/><rect x="400" y="486" width="12" height="12" fill="#5ea069"/><rect x="412" y="486" width="12" height="12" fill="#60a067"/><rect x="424" y="486" width="12" height="12" fill="#62a066"/><rect x="436" y="486" width="12" height="12" fill="#64a164"/><rect x="448" y="486" width="12" height="12" fill="#68a262"/><rect x="460" y="486" width="12" height="12" fill="#6ea35f"/><rect x="472" y="486" width="12" height="12" fill="#76a15c"/><rect x="484" y="486" width="12" height="12" fill="#7e9f58"/><rect x="496" y="486" width="12" height="12" fill="#859d55"/><rect x="508" y="486" width="12" height="12" fill="#8a9b52"/><rect x="520" y="486" width="12" height="12" fill="#8f9b50"/><rect x="532" y="486" width="12" height="12" fill="#929c4e"/><rect x="544" y="486" width="12" height="12" fill="#929e4f"/><rect x="556" y="486" width="12" height="12" fill="#939f4f"/><rect x="568" y="486" width="12" height="12" fill="#979f4d"/><rect x="580" y="486" width="12" height="12" fill="#9b9d4a"/><rect x="592" y="486" width="12" height="12" fill="#a09b47"/><rect x="604" y="486" width="12" height="12" fill="#a39b47"/><rect x="616" y="486" width="12" height="12" fill="#a59b48"/><rect x="628" y="486" width="12" height="12" fill="#a89b49"/><rect x="640" y="486" width="12" height="12" fill="#ac9a4a"/><rect x="652" y="486" width="12" height="12" fill="#b1984a"/><rect x="664" y="486" width="12" height="12" fill="#b6974a"/><rect x="172" y="498" width="12" height="12" fill="#49979c"/><rect x="184" y="498" width="12" height="12" fill="#3d96a7"/><rect x="196" y="498" width="12" height="12" fill="#3495b2"/><rect x="208" y="498" width="12" height="12" fill="#2c94bd"/><rect x="220" y="498" width="12" height="12" fill="#2692c6"/><rect x="232" y="498" width="12" height="12" fill="#2291ce"/><rect x="244" y="498" width="12" height="12" fill="#1f90d0"/><rect x="256" y="498" width="12" height="12" fill="#1d92cc"/><rect x="268" y="498" width="12" height="12" fill="#1c9cbb"/><rect x="280" y="498" width="12" height="12" fill="#23a1a5"/><rect x="292" y="498" width="12" height="12" fill="#29a190"/><rect x="304" y="498" width="12" height="12" fill="#33a180"/><rect x="316" y="498" width="12" height="12" fill="#44a175"/><rect x="328" y="498" width="12" height="12" fill="#52a16f"/><rect x="340" y="498" width="12" height="12" fill="#5ba16c"/><rect x="352" y="498" width="12" height="12" fill="#60a06b"/><rect x="364" y="498" width="12" height="12" fill="#669f6a"/><rect x="376" y="498" width="12" height="12" fill="#6f9f64"/><rect x="388" y="498" width="12" height="12" fill="#7a9f5b"/><rect x="400" y="498" width="12" height="12" fill="#819e56"/><rect x="412" y="498" width="12" height="12" fill="#849d54"/><rect x="424" y="498" width="12" height="12" fill="#859d53"/><rect x="436" y="498" width="12" height="12" fill="#859e53"/><rect x="448" y="498" width="12" height="12" fill="#86a051"/><rect x="460" y="498" width="12" height="12" fill="#89a24f"/><rect x="472" y="498" width="12" height="12" fill="#919f4d"/><rect x="484" y="498" width="12" height="12" fill="#999c4b"/><rect x="496" y="498" width="12" height="12" fill="#a09949"/><rect x="508" y="498" width="12" height="12" fill="#a59747"/><rect x="520" y="498" width="12" height="12" fill="#a89745"/><rect x="532" y="498" width="12" height="12" fill="#aa9844"/><rect x="544" y="498" width="12" height="12" fill="#aa9a45"/><rect x="556" y="498" width="12" height="12" fill="#ac9b44"/><rect x="568" y="498" width="12" height="12" fill="#af9a43"/><rect x="580" y="498" width="12" height="12" fill="#b39840"/><rect x="592" y="498" width="12" height="12" fill="#b6973e"/><rect x="604" y="498" width="12" height="12" fill="#b7973e"/><rect x="616" y="498" width="12" height="12" fill="#b79841"/><rect x="628" y="498" width="12" height="12" fill="#b79842"/><rect x="640" y="498" width="12" height="12" fill="#bb9743"/><rect x="652" y="498" width="12" height="12" fill="#c09543"/><rect x="664" y="498" width="12" height="12" fill="#c59443"/><rect x="676" y="498" width="12" height="12" fill="#c89343"/><rect x="688" y="498" width="12" height="12" fill="#c99244"/><rect x="184" y="510" width="12" height="12" fill="#4a95a0"/><rect x="196" y="510" width="12" height="12" fill="#4194aa"/><rect x="208" y="510" width="12" height="12" fill="#3993b3"/><rect x="220" y="510" width="12" height="12" fill="#3291bb"/><rect x="232" y="510" width="12" height="12" fill="#2c90c1"/><rect x="244" y="510" width="12" height="12" fill="#268fc3"/><rect x="256" y="510" width="12" height="12" fill="#2191be"/><rect x="268" y="510" width="12" height="12" fill="#2e9fa1"/><rect x="280" y="510" width="12" height="12" fill="#43a386"/><rect x="292" y="510" width="12" height="12" fill="#55a071"/><rect x="304" y="510" width="12" height="12" fill="#649e63"/><rect x="316" y="510" width="12" height="12" fill="#739e5a"/><rect x="328" y="510" width="12" height="12" fill="#7f9e56"/><rect x="340" y="510" width="12" height="12" fill="#869e55"/><rect x="352" y="510" width="12" height="12" fill="#8a9d55"/><rect x="364" y="510" width="12" height="12" fill="#8e9c54"/><rect x="376" y="510" width="12" height="12" fill="#949c50"/><rect x="388" y="510" width="12" height="12" fill="#9d9b4a"/><rect x="400" y="510" width="12" height="12" fill="#a59a45"/><rect x="412" y="510" width="12" height="12" fill="#a89844"/><rect x="424" y="510" width="12" height="12" fill="#a89844"/><rect x="436" y="510" width="12" height="12" fill="#a89944"/><rect x="448" y="510" width="12" height="12" fill="#a89a42"/><rect x="460" y="510" width="12" height="12" fill="#aa9b41"/><rect x="472" y="510" width="12" height="12" fill="#af9940"/><rect x="484" y="510" width="12" height="12" fill="#b6973f"/><rect x="496" y="510" width="12" height="12" fill="#bc953e"/><rect x="508" y="510" width="12" height="12" fill="#bf933d"/><rect x="520" y="510" width="12" height="12" fill="#c1933d"/><rect x="532" y="510" width="12" height="12" fill="#c1943d"/><rect x="544" y="510" width="12" height="12" fill="#c1953d"/><rect x="556" y="510" width="12" height="12" fill="#c2953d"/><rect x="568" y="510" width="12" height="12" fill="#c6943b"/><rect x="580" y="510" width="12" height="12" fill="#ca9239"/><rect x="592" y="510" width="12" height="12" fill="#cb9238"/><rect x="604" y="510" width="12" height="12" fill="#c99339"/><rect x="616" y="510" width="12" height="12" fill="#c7933a"/><rect x="628" y="510" width="12" height="12" fill="#c6933c"/><rect x="640" y="510" width="12" height="12" fill="#ca933c"/><rect x="652" y="510" width="12" height="12" fill="#d0923c"/><rect x="664" y="510" width="12" height="12" fill="#d4913c"/><rect x="676" y="510" width="12" height="12" fill="#d6903d"/><rect x="688" y="510" width="12" height="12" fill="#d6903e"/><rect x="700" y="510" width="12" height="12" fill="#d59040"/><rect x="196" y="522" width="12" height="12" fill="#51939c"/><rect x="208" y="522" width="12" height="12" fill="#4b92a3"/><rect x="220" y="522" width="12" height="12" fill="#4692a6"/><rect x="232" y="522" width="12" height="12" fill="#4392a6"/><rect x="244" y="522" width="12" height="12" fill="#43949e"/><rect x="256" y="522" width="12" height="12" fill="#4d9a89"/><rect x="268" y="522" width="12" height="12" fill="#61a170"/><rect x="280" y="522" width="12" height="12" fill="#7c9f5e"/><rect x="292" y="522" width="12" height="12" fill="#979b4e"/><rect x="304" y="522" width="12" height="12" fill="#a79943"/><rect x="316" y="522" width="12" height="12" fill="#ab9842"/><rect x="328" y="522" width="12" height="12" fill="#ae9942"/><rect x="340" y="522" width="12" height="12" fill="#b19943"/><rect x="352" y="522" width="12" height="12" fill="#b29944"/><rect x="364" y="522" width="12" height="12" fill="#b39844"/><rect x="376" y="522" width="12" height="12" fill="#b69741"/><rect x="388" y="522" width="12" height="12" fill="#bc963d"/><rect x="400" y="522" width="12" height="12" fill="#c3943a"/><rect x="412" y="522" width="12" height="12" fill="#c79239"/><rect x="424" y="522" width="12" height="12" fill="#c8923a"/><rect x="436" y="522" width="12" height="12" fill="#c79239"/><rect x="448" y="522" width="12" height="12" fill="#c79237"/><rect x="460" y="522" width="12" height="12" fill="#c99235"/><rect x="472" y="522" width="12" height="12" fill="#cb9236"/><rect x="484" y="522" width="12" height="12" fill="#d09136"/><rect x="496" y="522" width="12" height="12" fill="#d59037"/><rect x="508" y="522" width="12" height="12" fill="#d68f37"/><rect x="520" y="522" width="12" height="12" fill="#d68f37"/><rect x="532" y="522" width="12" height="12" fill="#d49037"/><rect x="544" y="522" width="12" height="12" fill="#d49037"/><rect x="556" y="522" width="12" height="12" fill="#d69037"/><rect x="568" y="522" width="12" height="12" fill="#d98e36"/><rect x="580" y="522" width="12" height="12" fill="#dd8d35"/><rect x="592" y="522" width="12" height="12" fill="#dd8d34"/><rect x="604" y="522" width="12" height="12" fill="#da8e34"/><rect x="616" y="522" width="12" height="12" fill="#d88f35"/><rect x="628" y="522" width="12" height="12" fill="#d68f36"/><rect x="640" y="522" width="12" height="12" fill="#da8f36"/><rect x="652" y="522" width="12" height="12" fill="#e18e36"/><rect x="664" y="522" width="12" height="12" fill="#e48d36"/><rect x="676" y="522" width="12" height="12" fill="#e38d37"/><rect x="688" y="522" width="12" height="12" fill="#e18d39"/><rect x="700" y="522" width="12" height="12" fill="#de8e3a"/><rect x="712" y="522" width="12" height="12" fill="#dc8e3c"/><rect x="208" y="534" width="12" height="12" fill="#61928f"/><rect x="220" y="534" width="12" height="12" fill="#60938e"/><rect x="232" y="534" width="12" height="12" fill="#629487"/><rect x="244" y="534" width="12" height="12" fill="#6b9778"/><rect x="256" y="534" width="12" height="12" fill="#7c9c61"/><rect x="268" y="534" width="12" height="12" fill="#969d4d"/><rect x="280" y="534" width="12" height="12" fill="#b39841"/><rect x="292" y="534" width="12" height="12" fill="#cd9337"/><rect x="304" y="534" width="12" height="12" fill="#d69132"/><rect x="316" y="534" width="12" height="12" fill="#d49233"/><rect x="328" y="534" width="12" height="12" fill="#d39235"/><rect x="340" y="534" width="12" height="12" fill="#d39237"/><rect x="352" y="534" width="12" height="12" fill="#d29238"/><rect x="364" y="534" width="12" height="12" fill="#d09239"/><rect x="376" y="534" width="12" height="12" fill="#d09238"/><rect x="388" y="534" width="12" height="12" fill="#d49136"/><rect x="400" y="534" width="12" height="12" fill="#d88f34"/><rect x="412" y="534" width="12" height="12" fill="#de8d34"/><rect x="424" y="534" width="12" height="12" fill="#e08c34"/><rect x="436" y="534" width="12" height="12" fill="#de8d33"/><rect x="448" y="534" width="12" height="12" fill="#dd8d32"/><rect x="460" y="534" width="12" height="12" fill="#de8d31"/><rect x="472" y="534" width="12" height="12" fill="#e08d31"/><rect x="484" y="534" width="12" height="12" fill="#e38d31"/><rect x="496" y="534" width="12" height="12" fill="#e78c32"/><rect x="508" y="534" width="12" height="12" fill="#e78c32"/><rect x="520" y="534" width="12" height="12" fill="#e58d33"/><rect x="532" y="534" width="12" height="12" fill="#e28d33"/><rect x="544" y="534" width="12" height="12" fill="#e28d34"/><rect x="556" y="534" width="12" height="12" fill="#e38d33"/><rect x="568" y="534" width="12" height="12" fill="#e68b33"/><rect x="580" y="534" width="12" height="12" fill="#e88a32"/><rect x="592" y="534" width="12" height="12" fill="#e88a32"/><rect x="604" y="534" width="12" height="12" fill="#e78b32"/><rect x="616" y="534" width="12" height="12" fill="#e78b32"/><rect x="628" y="534" width="12" height="12" fill="#e78b32"/><rect x="640" y="534" width="12" height="12" fill="#e98b32"/><rect x="652" y="534" width="12" height="12" fill="#ef8a30"/><rect x="664" y="534" width="12" height="12" fill="#ef8a31"/><rect x="676" y="534" width="12" height="12" fill="#ec8b33"/><rect x="688" y="534" width="12" height="12" fill="#e98c34"/><rect x="700" y="534" width="12" height="12" fill="#e68c36"/><rect x="712" y="534" width="12" height="12" fill="#e38d38"/><rect x="724" y="534" width="12" height="12" fill="#e18d3a"/><rect x="736" y="534" width="12" height="12" fill="#df8d3c"/><rect x="220" y="546" width="12" height="12" fill="#7b9376"/><rect x="232" y="546" width="12" height="12" fill="#82946d"/><rect x="244" y="546" width="12" height="12" fill="#90965e"/><rect x="256" y="546" width="12" height="12" fill="#a4974c"/><rect x="268" y="546" width="12" height="12" fill="#be963c"/><rect x="280" y="546" width="12" height="12" fill="#d99033"/><rect x="292" y="546" width="12" height="12" fill="#ed8b2e"/><rect x="304" y="546" width="12" height="12" fill="#ee8c2d"/><rect x="316" y="546" width="12" height="12" fill="#e98d2f"/><rect x="328" y="546" width="12" height="12" fill="#e98c30"/><rect x="340" y="546" width="12" height="12" fill="#eb8c31"/><rect x="352" y="546" width="12" height="12" fill="#e88c32"/><rect x="364" y="546" width="12" height="12" fill="#e58d32"/><rect x="376" y="546" width="12" height="12" fill="#e38e33"/><rect x="388" y="546" width="12" height="12" fill="#e38d32"/><rect x="400" y="546" width="12" height="12" fill="#e68c32"/><rect x="412" y="546" width="12" height="12" fill="#eb8a31"/><rect x="424" y="546" width="12" height="12" fill="#ed8a31"/><rect x="436" y="546" width="12" height="12" fill="#ed8a31"/><rect x="448" y="546" width="12" height="12" fill="#ec8b30"/><rect x="460" y="546" width="12" height="12" fill="#ec8b2f"/><rect x="472" y="546" width="12" height="12" fill="#ec8b2f"/><rect x="484" y="546" width="12" height="12" fill="#ec8b30"/><rect x="496" y="546" width="12" height="12" fill="#ee8b30"/><rect x="508" y="546" width="12" height="12" fill="#ee8b31"/><rect x="520" y="546" width="12" height="12" fill="#ed8b31"/><rect x="532" y="546" width="12" height="12" fill="#eb8b31"/><rect x="544" y="546" width="12" height="12" fill="#ea8b31"/><rect x="556" y="546" width="12" height="12" fill="#eb8b31"/><rect x="568" y="546" width="12" height="12" fill="#ed8a31"/><rect x="580" y="546" width="12" height="12" fill="#ee8931"/><rect x="592" y="546" width="12" height="12" fill="#ee8a30"/><rect x="604" y="546" width="12" height="12" fill="#ef8a30"/><rect x="616" y="546" width="12" height="12" fill="#f08a30"/><rect x="628" y="546" width="12" height="12" fill="#f08a30"/><rect x="640" y="546" width="12" height="12" fill="#f18a30"/><rect x="652" y="546" width="12" height="12" fill="#f3892f"/><rect x="664" y="546" width="12" height="12" fill="#f3892f"/><rect x="676" y="546" width="12" height="12" fill="#f18a30"/><rect x="688" y="546" width="12" height="12" fill="#ee8a32"/><rect x="700" y="546" width="12" height="12" fill="#eb8b33"/><rect x="712" y="546" width="12" height="12" fill="#e88b35"/><rect x="724" y="546" width="12" height="12" fill="#e68c36"/><rect x="736" y="546" width="12" height="12" fill="#e48c38"/><rect x="232" y="558" width="12" height="12" fill="#a09259"/><rect x="244" y="558" width="12" height="12" fill="#ae934c"/><rect x="256" y="558" width="12" height="12" fill="#c1933e"/><rect x="268" y="558" width="12" height="12" fill="#d79033"/><rect x="280" y="558" width="12" height="12" fill="#eb8c2d"/><rect x="292" y="558" width="12" height="12" fill="#f6892b"/><rect x="304" y="558" width="12" height="12" fill="#f4892d"/><rect x="316" y="558" width="12" height="12" fill="#ef8a30"/><rect x="328" y="558" width="12" height="12" fill="#f3892f"/><rect x="340" y="558" width="12" height="12" fill="#f6882f"/><rect x="352" y="558" width="12" height="12" fill="#f6892f"/><rect x="364" y="558" width="12" height="12" fill="#f38a2f"/><rect x="376" y="558" width="12" height="12" fill="#f08a30"/><rect x="388" y="558" width="12" height="12" fill="#ed8b30"/><rect x="400" y="558" width="12" height="12" fill="#ef8a30"/><rect x="412" y="558" width="12" height="12" fill="#f38930"/><rect x="424" y="558" width="12" height="12" fill="#f6892f"/><rect x="436" y="558" width="12" height="12" fill="#f6892f"/><rect x="448" y="558" width="12" height="12" fill="#f5892f"/><rect x="460" y="558" width="12" height="12" fill="#f4892e"/><rect x="472" y="558" width="12" height="12" fill="#f2892e"/><rect x="484" y="558" width="12" height="12" fill="#f18a2f"/><rect x="496" y="558" width="12" height="12" fill="#f08a30"/><rect x="508" y="558" width="12" height="12" fill="#f18a30"/><rect x="520" y="558" width="12" height="12" fill="#f08a30"/><rect x="532" y="558" width="12" height="12" fill="#f08a30"/><rect x="544" y="558" width="12" height="12" fill="#ef8a30"/><rect x="556" y="558" width="12" height="12" fill="#ef8a30"/><rect x="568" y="558" width="12" height="12" fill="#f08a30"/><rect x="580" y="558" width="12" height="12" fill="#f08a30"/><rect x="592" y="558" width="12" height="12" fill="#f08a30"/><rect x="604" y="558" width="12" height="12" fill="#f18a30"/><rect x="616" y="558" width="12" height="12" fill="#f28a30"/><rect x="628" y="558" width="12" height="12" fill="#f28a30"/><rect x="640" y="558" width="12" height="12" fill="#f18a30"/><rect x="652" y="558" width="12" height="12" fill="#f28a2f"/><rect x="664" y="558" width="12" height="12" fill="#f3892f"/><rect x="676" y="558" width="12" height="12" fill="#f2892f"/><rect x="688" y="558" width="12" height="12" fill="#f08a30"/><rect x="700" y="558" width="12" height="12" fill="#ee8a31"/><rect x="712" y="558" width="12" height="12" fill="#ed8b32"/><rect x="724" y="558" width="12" height="12" fill="#eb8b34"/><rect x="736" y="558" width="12" height="12" fill="#e98b35"/><rect x="244" y="570" width="12" height="12" fill="#c7903f"/><rect x="256" y="570" width="12" height="12" fill="#d78f35"/><rect x="268" y="570" width="12" height="12" fill="#e88d2e"/><rect x="280" y="570" width="12" height="12" fill="#f58a2a"/><rect x="292" y="570" width="12" height="12" fill="#fb8829"/><rect x="304" y="570" width="12" height="12" fill="#f9882c"/><rect x="316" y="570" width="12" height="12" fill="#f6882f"/><rect x="328" y="570" width="12" height="12" fill="#f9872e"/><rect x="340" y="570" width="12" height="12" fill="#fd862d"/><rect x="352" y="570" width="12" height="12" fill="#fe862d"/><rect x="364" y="570" width="12" height="12" fill="#fc872d"/><rect x="376" y="570" width="12" height="12" fill="#f9882e"/><rect x="388" y="570" width="12" height="12" fill="#f7892e"/><rect x="400" y="570" width="12" height="12" fill="#f7882f"/><rect x="412" y="570" width="12" height="12" fill="#fa882e"/><rect x="424" y="570" width="12" height="12" fill="#fc882e"/><rect x="436" y="570" width="12" height="12" fill="#fc882e"/><rect x="448" y="570" width="12" height="12" fill="#fc882d"/><rect x="460" y="570" width="12" height="12" fill="#fa882d"/><rect x="472" y="570" width="12" height="12" fill="#f7892e"/><rect x="484" y="570" width="12" height="12" fill="#f4892f"/><rect x="496" y="570" width="12" height="12" fill="#f38a2f"/><rect x="508" y="570" width="12" height="12" fill="#f38a30"/><rect x="520" y="570" width="12" height="12" fill="#f38a2f"/><rect x="532" y="570" width="12" height="12" fill="#f38a2f"/><rect x="544" y="570" width="12" height="12" fill="#f28a2f"/><rect x="556" y="570" width="12" height="12" fill="#f28a2f"/><rect x="568" y="570" width="12" height="12" fill="#f2892f"/><rect x="580" y="570" width="12" height="12" fill="#f28a2f"/><rect x="592" y="570" width="12" height="12" fill="#f18a30"/><rect x="604" y="570" width="12" height="12" fill="#f28a2f"/><rect x="616" y="570" width="12" height="12" fill="#f38a2f"/><rect x="628" y="570" width="12" height="12" fill="#f28a30"/><rect x="640" y="570" width="12" height="12" fill="#f18a30"/><rect x="652" y="570" width="12" height="12" fill="#f18a2f"/><rect x="664" y="570" width="12" height="12" fill="#f3892f"/><rect x="676" y="570" width="12" height="12" fill="#f3892e"/><rect x="688" y="570" width="12" height="12" fill="#f28a2f"/><rect x="700" y="570" width="12" height="12" fill="#f18a2f"/><rect x="712" y="570" width="12" height="12" fill="#f08a30"/><rect x="724" y="570" width="12" height="12" fill="#ef8a31"/><rect x="736" y="570" width="12" height="12" fill="#ed8b32"/><rect x="256" y="582" width="12" height="12" fill="#e78c2f"/><rect x="268" y="582" width="12" height="12" fill="#f38a2a"/><rect x="280" y="582" width="12" height="12" fill="#fc8827"/><rect x="292" y="582" width="12" height="12" fill="#ff8727"/><rect x="304" y="582" width="12" height="12" fill="#ff8729"/><rect x="316" y="582" width="12" height="12" fill="#ff872b"/><rect x="328" y="582" width="12" height="12" fill="#ff862b"/><rect x="340" y="582" width="12" height="12" fill="#ff852b"/><rect x="352" y="582" width="12" height="12" fill="#ff852b"/><rect x="364" y="582" width="12" height="12" fill="#ff852b"/><rect x="376" y="582" width="12" height="12" fill="#ff862c"/><rect x="388" y="582" width="12" height="12" fill="#ff872c"/><rect x="400" y="582" width="12" height="12" fill="#ff872c"/><rect x="412" y="582" width="12" height="12" fill="#ff872c"/><rect x="424" y="582" width="12" height="12" fill="#ff862c"/><rect x="436" y="582" width="12" height="12" fill="#ff872c"/><rect x="448" y="582" width="12" height="12" fill="#ff872c"/><rect x="460" y="582" width="12" height="12" fill="#ff872c"/><rect x="472" y="582" width="12" height="12" fill="#fc882d"/><rect x="484" y="582" width="12" height="12" fill="#f9882e"/><rect x="496" y="582" width="12" height="12" fill="#f8892e"/><rect x="508" y="582" width="12" height="12" fill="#f7892e"/><rect x="520" y="582" width="12" height="12" fill="#f7892e"/><rect x="532" y="582" width="12" height="12" fill="#f6892e"/><rect x="544" y="582" width="12" height="12" fill="#f6892e"/><rect x="556" y="582" width="12" height="12" fill="#f5892e"/><rect x="568" y="582" width="12" height="12" fill="#f5892e"/><rect x="580" y="582" width="12" height="12" fill="#f48a2f"/><rect x="592" y="582" width="12" height="12" fill="#f48a2f"/><rect x="604" y="582" width="12" height="12" fill="#f48a2f"/><rect x="616" y="582" width="12" height="12" fill="#f48a2f"/><rect x="628" y="582" width="12" height="12" fill="#f38a2f"/><rect x="640" y="582" width="12" height="12" fill="#f38a2f"/><rect x="652" y="582" width="12" height="12" fill="#f38a2e"/><rect x="664" y="582" width="12" height="12" fill="#f4892e"/><rect x="676" y="582" width="12" height="12" fill="#f4892d"/><rect x="688" y="582" width="12" height="12" fill="#f4892d"/><rect x="700" y="582" width="12" height="12" fill="#f48a2e"/><rect x="712" y="582" width="12" height="12" fill="#f38a2e"/><rect x="724" y="582" width="12" height="12" fill="#f28a2f"/><rect x="736" y="582" width="12" height="12" fill="#f18a30"/><rect x="268" y="594" width="12" height="12" fill="#fd8926"/><rect x="280" y="594" width="12" height="12" fill="#ff8724"/><rect x="292" y="594" width="12" height="12" fill="#ff8624"/><rect x="304" y="594" width="12" height="12" fill="#ff8526"/><rect x="316" y="594" width="12" height="12" fill="#ff8527"/><rect x="328" y="594" width="12" height="12" fill="#ff8428"/><rect x="340" y="594" width="12" height="12" fill="#ff8428"/><rect x="352" y="594" width="12" height="12" fill="#ff8428"/><rect x="364" y="594" width="12" height="12" fill="#ff8429"/><rect x="376" y="594" width="12" height="12" fill="#ff8429"/><rect x="388" y="594" width="12" height="12" fill="#ff852a"/><rect x="400" y="594" width="12" height="12" fill="#ff852a"/><rect x="412" y="594" width="12" height="12" fill="#ff852a"/><rect x="424" y="594" width="12" height="12" fill="#ff852a"/><rect x="436" y="594" width="12" height="12" fill="#ff862b"/><rect x="448" y="594" width="12" height="12" fill="#ff862b"/><rect x="460" y="594" width="12" height="12" fill="#ff862b"/><rect x="472" y="594" width="12" height="12" fill="#ff872c"/><rect x="484" y="594" width="12" height="12" fill="#ff872c"/><rect x="496" y="594" width="12" height="12" fill="#fd882d"/><rect x="508" y="594" width="12" height="12" fill="#fb882d"/><rect x="520" y="594" width="12" height="12" fill="#fb882d"/><rect x="532" y="594" width="12" height="12" fill="#fa882d"/><rect x="544" y="594" width="12" height="12" fill="#f9892d"/><rect x="556" y="594" width="12" height="12" fill="#f9892d"/><rect x="568" y="594" width="12" height="12" fill="#f8892d"/><rect x="580" y="594" width="12" height="12" fill="#f7892d"/><rect x="592" y="594" width="12" height="12" fill="#f7892d"/><rect x="604" y="594" width="12" height="12" fill="#f68a2d"/><rect x="616" y="594" width="12" height="12" fill="#f68a2e"/><rect x="628" y="594" width="12" height="12" fill="#f58a2d"/><rect x="640" y="594" width="12" height="12" fill="#f58a2d"/><rect x="652" y="594" width="12" height="12" fill="#f5892d"/><rect x="664" y="594" width="12" height="12" fill="#f6892c"/><rect x="676" y="594" width="12" height="12" fill="#f6892c"/><rect x="688" y="594" width="12" height="12" fill="#f7892c"/><rect x="700" y="594" width="12" height="12" fill="#f7892c"/><rect x="712" y="594" width="12" height="12" fill="#f6892c"/><rect x="724" y="594" width="12" height="12" fill="#f6892d"/><rect x="736" y="594" width="12" height="12" fill="#f58a2d"/></g>
<rect x="60" y="180" width="700" height="400" fill="url(#lw)"/>
<rect x="60" y="180" width="700" height="400" fill="url(#bg)"/>
<line x1="88.2" y1="189.5" x2="88.2" y2="574.5" stroke="#000" stroke-opacity="0.07" stroke-width="1.1" stroke-dasharray="4 4.75"/><line x1="131.5" y1="189.5" x2="131.5" y2="574.5" stroke="#000" stroke-opacity="0.07" stroke-width="1.1" stroke-dasharray="4 4.75"/><line x1="218.2" y1="189.5" x2="218.2" y2="574.5" stroke="#000" stroke-opacity="0.07" stroke-width="1.1" stroke-dasharray="4 4.75"/><line x1="261.5" y1="189.5" x2="261.5" y2="574.5" stroke="#000" stroke-opacity="0.07" stroke-width="1.1" stroke-dasharray="4 4.75"/><line x1="304.8" y1="189.5" x2="304.8" y2="574.5" stroke="#000" stroke-opacity="0.07" stroke-width="1.1" stroke-dasharray="4 4.75"/><line x1="391.5" y1="189.5" x2="391.5" y2="574.5" stroke="#000" stroke-opacity="0.07" stroke-width="1.1" stroke-dasharray="4 4.75"/><line x1="434.8" y1="189.5" x2="434.8" y2="574.5" stroke="#000" stroke-opacity="0.07" stroke-width="1.1" stroke-dasharray="4 4.75"/><line x1="478.2" y1="189.5" x2="478.2" y2="574.5" stroke="#000" stroke-opacity="0.07" stroke-width="1.1" stroke-dasharray="4 4.75"/><line x1="564.8" y1="189.5" x2="564.8" y2="574.5" stroke="#000" stroke-opacity="0.07" stroke-width="1.1" stroke-dasharray="4 4.75"/><line x1="608.2" y1="189.5" x2="608.2" y2="574.5" stroke="#000" stroke-opacity="0.07" stroke-width="1.1" stroke-dasharray="4 4.75"/><line x1="651.5" y1="189.5" x2="651.5" y2="574.5" stroke="#000" stroke-opacity="0.07" stroke-width="1.1" stroke-dasharray="4 4.75"/><line x1="738.2" y1="189.5" x2="738.2" y2="574.5" stroke="#000" stroke-opacity="0.07" stroke-width="1.1" stroke-dasharray="4 4.75"/><line x1="66.5" y1="550.9" x2="759.5" y2="550.9" stroke="#000" stroke-opacity="0.160" stroke-width="1.1" stroke-dasharray="3 5.75"/><line x1="66.5" y1="454.7" x2="759.5" y2="454.7" stroke="#000" stroke-opacity="0.160" stroke-width="1.1" stroke-dasharray="3 5.75"/><line x1="66.5" y1="406.6" x2="759.5" y2="406.6" stroke="#000" stroke-opacity="0.096" stroke-width="1.1" stroke-dasharray="3 5.75"/><line x1="66.5" y1="358.4" x2="759.5" y2="358.4" stroke="#000" stroke-opacity="0.160" stroke-width="1.1" stroke-dasharray="3 5.75"/><line x1="66.5" y1="310.3" x2="759.5" y2="310.3" stroke="#000" stroke-opacity="0.160" stroke-width="1.1" stroke-dasharray="3 5.75"/><line x1="66.5" y1="214.1" x2="759.5" y2="214.1" stroke="#000" stroke-opacity="0.160" stroke-width="1.1" stroke-dasharray="3 5.75"/>
</g>
<g clip-path="url(#fco)"><line x1="109.8" y1="189.5" x2="109.8" y2="574.5" stroke="#000" stroke-opacity="0.22" stroke-width="1.25"/><line x1="153.2" y1="189.5" x2="153.2" y2="574.5" stroke="#000" stroke-opacity="0.22" stroke-width="1.25"/><line x1="196.5" y1="189.5" x2="196.5" y2="574.5" stroke="#000" stroke-opacity="0.22" stroke-width="1.25"/><line x1="239.8" y1="189.5" x2="239.8" y2="574.5" stroke="#000" stroke-opacity="0.22" stroke-width="1.25"/><line x1="283.2" y1="189.5" x2="283.2" y2="574.5" stroke="#000" stroke-opacity="0.22" stroke-width="1.25"/><line x1="326.5" y1="189.5" x2="326.5" y2="574.5" stroke="#000" stroke-opacity="0.22" stroke-width="1.25"/><line x1="369.8" y1="189.5" x2="369.8" y2="574.5" stroke="#000" stroke-opacity="0.22" stroke-width="1.25"/><line x1="413.2" y1="189.5" x2="413.2" y2="574.5" stroke="#000" stroke-opacity="0.22" stroke-width="1.25"/><line x1="456.5" y1="189.5" x2="456.5" y2="574.5" stroke="#000" stroke-opacity="0.22" stroke-width="1.25"/><line x1="499.8" y1="189.5" x2="499.8" y2="574.5" stroke="#000" stroke-opacity="0.22" stroke-width="1.25"/><line x1="543.2" y1="189.5" x2="543.2" y2="574.5" stroke="#000" stroke-opacity="0.22" stroke-width="1.25"/><line x1="586.5" y1="189.5" x2="586.5" y2="574.5" stroke="#000" stroke-opacity="0.22" stroke-width="1.25"/><line x1="629.8" y1="189.5" x2="629.8" y2="574.5" stroke="#000" stroke-opacity="0.22" stroke-width="1.25"/><line x1="673.2" y1="189.5" x2="673.2" y2="574.5" stroke="#000" stroke-opacity="0.22" stroke-width="1.25"/><line x1="716.5" y1="189.5" x2="716.5" y2="574.5" stroke="#000" stroke-opacity="0.22" stroke-width="1.25"/><line x1="66.5" y1="526.9" x2="759.5" y2="526.9" stroke="#000" stroke-opacity="0.15" stroke-width="2"/><line x1="66.5" y1="478.8" x2="759.5" y2="478.8" stroke="#000" stroke-opacity="0.15" stroke-width="2"/><line x1="66.5" y1="430.6" x2="759.5" y2="430.6" stroke="#000" stroke-opacity="0.15" stroke-width="2"/><line x1="66.5" y1="382.5" x2="759.5" y2="382.5" stroke="#000" stroke-opacity="0.15" stroke-width="2"/><line x1="66.5" y1="334.4" x2="759.5" y2="334.4" stroke="#000" stroke-opacity="0.15" stroke-width="2"/><line x1="66.5" y1="286.2" x2="759.5" y2="286.2" stroke="#000" stroke-opacity="0.15" stroke-width="2"/><line x1="66.5" y1="238.1" x2="759.5" y2="238.1" stroke="#000" stroke-opacity="0.15" stroke-width="2"/></g>
<g clip-path="url(#fc)"><line x1="109.8" y1="189.5" x2="109.8" y2="574.5" stroke="#000" stroke-opacity="0.17" stroke-width="1.25"/><line x1="153.2" y1="189.5" x2="153.2" y2="574.5" stroke="#000" stroke-opacity="0.17" stroke-width="1.25"/><line x1="196.5" y1="189.5" x2="196.5" y2="574.5" stroke="#000" stroke-opacity="0.17" stroke-width="1.25"/><line x1="239.8" y1="189.5" x2="239.8" y2="574.5" stroke="#000" stroke-opacity="0.17" stroke-width="1.25"/><line x1="283.2" y1="189.5" x2="283.2" y2="574.5" stroke="#000" stroke-opacity="0.17" stroke-width="1.25"/><line x1="326.5" y1="189.5" x2="326.5" y2="574.5" stroke="#000" stroke-opacity="0.17" stroke-width="1.25"/><line x1="369.8" y1="189.5" x2="369.8" y2="574.5" stroke="#000" stroke-opacity="0.17" stroke-width="1.25"/><line x1="413.2" y1="189.5" x2="413.2" y2="574.5" stroke="#000" stroke-opacity="0.17" stroke-width="1.25"/><line x1="456.5" y1="189.5" x2="456.5" y2="574.5" stroke="#000" stroke-opacity="0.17" stroke-width="1.25"/><line x1="499.8" y1="189.5" x2="499.8" y2="574.5" stroke="#000" stroke-opacity="0.17" stroke-width="1.25"/><line x1="543.2" y1="189.5" x2="543.2" y2="574.5" stroke="#000" stroke-opacity="0.17" stroke-width="1.25"/><line x1="586.5" y1="189.5" x2="586.5" y2="574.5" stroke="#000" stroke-opacity="0.17" stroke-width="1.25"/><line x1="629.8" y1="189.5" x2="629.8" y2="574.5" stroke="#000" stroke-opacity="0.17" stroke-width="1.25"/><line x1="673.2" y1="189.5" x2="673.2" y2="574.5" stroke="#000" stroke-opacity="0.17" stroke-width="1.25"/><line x1="716.5" y1="189.5" x2="716.5" y2="574.5" stroke="#000" stroke-opacity="0.17" stroke-width="1.25"/><line x1="66.5" y1="526.9" x2="759.5" y2="526.9" stroke="#000" stroke-opacity="0.12" stroke-width="2"/><line x1="66.5" y1="478.8" x2="759.5" y2="478.8" stroke="#000" stroke-opacity="0.12" stroke-width="2"/><line x1="66.5" y1="430.6" x2="759.5" y2="430.6" stroke="#000" stroke-opacity="0.12" stroke-width="2"/><line x1="66.5" y1="382.5" x2="759.5" y2="382.5" stroke="#000" stroke-opacity="0.12" stroke-width="2"/><line x1="66.5" y1="334.4" x2="759.5" y2="334.4" stroke="#000" stroke-opacity="0.12" stroke-width="2"/><line x1="66.5" y1="286.2" x2="759.5" y2="286.2" stroke="#000" stroke-opacity="0.12" stroke-width="2"/><line x1="66.5" y1="238.1" x2="759.5" y2="238.1" stroke="#000" stroke-opacity="0.12" stroke-width="2"/></g>
<rect x="66.5" y="189.5" width="693.0" height="385.0" fill="none" stroke="#000" stroke-opacity="0.38" stroke-width="1.5"/>
<path d="M66.5,214.1 L67.5,214.5 L68.6,215.0 L69.7,215.4 L70.7,215.8 L71.8,216.3 L72.8,216.7 L73.8,217.1 L74.9,217.6 L75.9,218.1 L76.9,218.5 L78.0,219.0 L79.0,219.5 L80.0,220.0 L81.0,220.5 L82.0,221.0 L83.0,221.5 L84.0,222.0 L85.0,222.5 L86.0,223.0 L87.0,223.5 L88.0,224.1 L89.0,224.6 L90.0,225.1 L91.0,225.7 L91.0,225.7" fill="none" stroke="#8ccdf0" stroke-width="4.1" stroke-linecap="butt"/>
<path d="M96.0,228.6 L96.7,229.1 L97.7,229.7 L98.6,230.3 L99.6,230.9 L100.5,231.5 L101.5,232.1 L102.4,232.7 L103.3,233.3 L104.2,233.9 L105.2,234.5 L106.1,235.1 L107.0,235.8 L107.9,236.4 L108.8,237.0 L109.7,237.7 L110.7,238.3 L111.6,239.0 L112.5,239.6 L113.3,240.3 L114.2,241.0 L115.1,241.6 L116.0,242.3 L116.9,243.0 L117.8,243.7 L118.7,244.4 L119.5,245.1 L120.4,245.7 L121.3,246.4 L122.1,247.1 L123.0,247.9 L123.9,248.6 L124.7,249.3 L125.6,250.0 L126.4,250.7 L127.3,251.4 L128.1,252.2 L129.0,252.9 L129.8,253.6 L130.6,254.3 L131.5,255.1 L132.3,255.8 L133.1,256.6 L134.0,257.3 L134.8,258.1 L135.6,258.8 L136.4,259.6 L137.3,260.3 L138.1,261.1 L138.9,261.9 L139.7,262.6 L140.5,263.4 L141.3,264.2 L142.1,265.0 L142.9,265.7 L143.7,266.5 L144.5,267.3 L145.3,268.1 L146.1,268.9 L146.9,269.7 L147.7,270.5 L148.5,271.3 L149.3,272.1 L150.0,272.9 L150.8,273.7 L151.6,274.5 L152.4,275.3 L153.2,276.1 L153.9,276.9 L154.7,277.7 L155.5,278.5 L156.2,279.3 L157.0,280.1 L157.8,281.0 L158.5,281.8 L159.3,282.6 L160.0,283.4 L160.8,284.2 L161.5,285.1 L162.3,285.9 L163.0,286.7 L163.8,287.5 L164.5,288.4 L165.3,289.2 L166.0,290.0 L166.8,290.9 L167.5,291.7 L168.2,292.6 L169.0,293.4 L169.7,294.2 L170.4,295.1 L171.2,295.9 L171.9,296.8 L172.6,297.6 L173.3,298.5 L174.0,299.4 L174.7,300.2 L175.5,301.1 L176.2,301.9 L176.9,302.8 L177.6,303.7 L178.3,304.5 L179.0,305.4 L179.7,306.3 L180.3,307.2 L181.0,308.0 L181.7,308.9 L182.4,309.8 L183.1,310.7 L183.7,311.6 L184.4,312.5 L185.1,313.4 L185.7,314.3 L186.4,315.2 L187.1,316.1 L187.7,317.0 L188.4,317.9 L189.0,318.8 L189.7,319.7 L190.3,320.6 L190.9,321.5 L191.6,322.5 L192.2,323.4 L192.8,324.3 L193.5,325.2 L194.1,326.2 L194.7,327.1 L195.3,328.0 L196.0,328.9 L196.6,329.9 L197.2,330.8 L197.8,331.7 L198.4,332.7 L199.0,333.6 L199.6,334.6 L200.2,335.5 L200.8,336.5 L201.4,337.4 L202.0,338.4 L202.6,339.3 L203.2,340.3 L203.7,341.2 L204.3,342.2 L204.9,343.1 L205.5,344.1 L206.1,345.1 L206.6,346.0 L207.2,347.0 L207.8,347.9 L208.3,348.9 L208.9,349.9 L209.5,350.8 L210.0,351.8 L210.6,352.8 L211.1,353.8 L211.7,354.7 L212.2,355.7 L212.8,356.7 L213.3,357.7 L213.9,358.6 L214.4,359.6 L215.0,360.6 L215.5,361.6 L216.0,362.6 L216.6,363.5 L217.1,364.5 L217.6,365.5 L218.2,366.5 L218.7,367.5 L219.2,368.5 L219.8,369.5 L220.3,370.4 L220.8,371.4 L221.3,372.4 L221.8,373.4 L222.3,374.4 L222.9,375.4 L223.4,376.4 L223.9,377.4 L224.4,378.4 L224.9,379.4 L225.4,380.4 L225.9,381.4 L226.4,382.4 L226.9,383.4 L227.4,384.4 L227.9,385.4 L228.4,386.4 L228.9,387.4 L229.4,388.4 L229.9,389.4 L230.4,390.4 L230.8,391.4 L231.3,392.4 L231.8,393.4 L232.3,394.4 L232.8,395.4 L233.2,396.4 L233.7,397.4 L234.2,398.4 L234.7,399.4 L235.1,400.5 L235.6,401.5 L236.1,402.5 L236.5,403.5 L237.0,404.5 L237.4,405.5 L237.9,406.6 L238.3,407.6 L238.8,408.6 L239.2,409.6 L239.7,410.6 L240.2,411.6 L240.6,412.7 L241.1,413.7 L241.5,414.7 L241.9,415.7 L242.4,416.8 L242.8,417.8 L243.3,418.8 L243.7,419.8 L244.2,420.8 L244.6,421.9 L245.1,422.9 L245.5,423.9 L246.0,424.9 L246.5,425.9 L246.9,427.0 L247.4,428.0 L247.8,429.0 L248.3,430.0 L248.7,431.0 L249.2,432.0 L249.7,433.1 L250.1,434.1 L250.6,435.1 L251.1,436.1 L251.5,437.1 L252.0,438.1 L252.5,439.1 L252.9,440.2 L253.4,441.2 L253.9,442.2 L254.3,443.2 L254.8,444.2 L255.3,445.2 L255.8,446.2 L256.2,447.2 L256.7,448.3 L257.2,449.3 L257.6,450.3 L258.1,451.3 L258.6,452.3 L259.0,453.3 L259.5,454.3 L259.9,455.4 L260.4,456.4 L260.8,457.4 L261.3,458.4 L261.7,459.4 L262.2,460.4 L262.6,461.5 L263.1,462.5 L263.5,463.5 L264.0,464.5 L264.4,465.6 L264.8,466.6 L265.3,467.6 L265.7,468.6 L266.1,469.7 L266.5,470.7 L266.9,471.7 L267.4,472.8 L267.8,473.8 L268.2,474.8 L268.6,475.9 L269.0,476.9 L269.3,478.0 L269.7,479.0 L270.1,480.1 L270.5,481.1 L270.9,482.2 L271.2,483.2 L271.6,484.3 L271.9,485.3 L272.3,486.4 L272.6,487.5 L273.0,488.5 L273.3,489.6 L273.7,490.6 L274.0,491.7 L274.4,492.8 L274.7,493.8 L275.0,494.9 L275.3,496.0 L275.7,497.0 L276.0,498.1 L276.3,499.2 L276.7,500.3 L277.0,501.3 L277.3,502.4 L277.6,503.5 L277.9,504.5 L278.3,505.6 L278.6,506.7 L278.9,507.8 L279.2,508.8 L279.6,509.9 L279.9,511.0 L280.2,512.0 L280.6,513.1 L280.9,514.2 L281.2,515.2 L281.6,516.3 L281.9,517.4 L282.2,518.4 L282.6,519.5 L282.9,520.6 L283.3,521.6 L283.6,522.7 L284.0,523.8 L284.3,524.8 L284.7,525.9 L285.0,526.9 L285.4,528.0 L285.8,529.0 L286.1,530.1 L286.5,531.2 L286.9,532.2 L287.2,533.3 L287.6,534.3 L288.0,535.4 L288.4,536.4 L288.8,537.5 L289.2,538.5 L289.5,539.5 L289.9,540.6 L290.1,541.0" fill="none" stroke="#8ccdf0" stroke-width="4.1" stroke-linecap="butt"/>
<path d="M292.5,547.0 L292.8,547.8 L293.3,548.9 L293.7,549.9 L294.1,550.9 L294.6,552.0 L295.0,553.0 L295.5,554.0 L295.9,555.0 L296.4,556.0 L296.8,557.0" fill="none" stroke="#8ccdf0" stroke-width="4.1" stroke-linecap="butt"/>
<path d="M299.2,562.0 L299.2,562.1 L299.7,563.1 L300.2,564.1 L300.7,565.1 L301.2,566.1 L301.7,567.1 L302.3,568.1 L302.8,569.1 L303.3,570.1 L303.9,571.1 L304.4,572.0 L304.9,573.0 L305.5,574.0 L306.1,575.0" fill="none" stroke="#8ccdf0" stroke-width="4.1" stroke-linecap="butt"/>
<path d="M66.5,343.0 L67.0,343.2 L67.8,343.5 L68.6,343.7 L69.5,344.0 L70.3,344.3 L71.1,344.6 L71.9,344.9 L72.7,345.2 L73.5,345.4" fill="none" stroke="#8ccdf0" stroke-width="4.1" stroke-linecap="butt"/>
<path d="M82.5,348.8 L83.2,349.1 L84.0,349.4 L84.8,349.7 L85.6,350.0 L86.4,350.4 L87.2,350.7 L88.0,351.0 L88.8,351.3 L89.6,351.7 L90.4,352.0 L91.1,352.3 L91.9,352.7 L92.7,353.0 L93.0,353.1" fill="none" stroke="#8ccdf0" stroke-width="4.1" stroke-linecap="butt"/>
<path d="M102.0,357.1 L102.1,357.2 L102.9,357.5 L103.7,357.9 L104.4,358.3 L105.2,358.6 L106.0,359.0 L106.8,359.4 L107.5,359.8 L108.3,360.1 L109.1,360.5 L109.8,360.9 L110.6,361.3 L111.4,361.7 L112.1,362.0 L112.9,362.4 L113.7,362.8 L114.4,363.2 L115.2,363.6 L115.9,364.0 L116.7,364.4 L117.4,364.8 L118.2,365.2 L119.0,365.6 L119.7,366.0 L120.5,366.4 L121.2,366.8 L122.0,367.2 L122.7,367.6 L123.5,368.0 L124.2,368.4 L124.9,368.8 L125.7,369.3 L126.4,369.7 L127.2,370.1 L127.9,370.5 L128.7,370.9 L129.4,371.4 L130.1,371.8 L130.9,372.2 L131.6,372.7 L132.3,373.1 L133.1,373.5 L133.8,374.0 L134.5,374.4 L135.3,374.8 L136.0,375.3 L136.7,375.7 L137.4,376.2 L138.2,376.6 L138.9,377.1 L139.6,377.5 L140.3,378.0 L141.0,378.4 L141.8,378.9 L142.5,379.3 L143.2,379.8 L143.9,380.3 L144.6,380.7 L145.3,381.2 L146.1,381.7 L146.8,382.1 L147.5,382.6 L148.2,383.1 L148.9,383.5 L149.6,384.0 L150.3,384.5 L151.0,385.0 L151.7,385.5 L152.4,385.9 L153.1,386.4 L153.8,386.9 L154.5,387.4 L155.2,387.9 L155.9,388.4 L156.6,388.9 L157.3,389.4 L158.0,389.8 L158.7,390.3 L159.3,390.8 L160.0,391.3 L160.7,391.8 L161.4,392.3 L162.1,392.9 L162.8,393.4 L163.4,393.9 L164.1,394.4 L164.8,394.9 L165.5,395.4 L166.1,395.9 L166.8,396.4 L167.5,397.0 L168.2,397.5 L168.8,398.0 L169.5,398.5 L170.2,399.0 L170.8,399.6 L171.5,400.1 L172.2,400.6 L172.8,401.2 L173.5,401.7 L174.1,402.2 L174.8,402.8 L175.5,403.3 L176.1,403.8 L176.8,404.4 L177.4,404.9 L178.1,405.5 L178.7,406.0 L179.4,406.6 L180.0,407.1 L180.7,407.7 L181.3,408.2 L181.9,408.8 L182.6,409.3 L183.2,409.9 L183.9,410.4 L184.5,411.0 L185.1,411.6 L185.8,412.1 L186.4,412.7 L187.0,413.2 L187.7,413.8 L188.3,414.4 L188.9,415.0 L189.6,415.5 L190.2,416.1 L190.8,416.7 L191.4,417.3 L192.0,417.8 L192.7,418.4 L193.3,419.0 L193.9,419.6 L194.5,420.2 L195.1,420.7 L195.7,421.3 L196.3,421.9 L197.0,422.5 L197.6,423.1 L198.2,423.7 L198.8,424.3 L199.4,424.9 L200.0,425.5 L200.6,426.1 L201.2,426.7 L201.8,427.3 L202.4,427.9 L203.0,428.5 L203.6,429.1 L204.1,429.7 L204.7,430.3 L205.3,430.9 L205.9,431.5 L206.5,432.2 L207.1,432.8 L207.7,433.4 L208.2,434.0 L208.8,434.6 L209.4,435.2 L210.0,435.9 L210.5,436.5 L211.1,437.1 L211.7,437.7 L212.3,438.4 L212.8,439.0 L213.4,439.6 L214.0,440.3 L214.5,440.9 L215.1,441.5 L215.6,442.2 L216.2,442.8 L216.8,443.4 L217.3,444.1 L217.9,444.7 L218.4,445.4 L219.0,446.0 L219.5,446.7 L220.1,447.3 L220.6,448.0 L221.2,448.6 L221.7,449.3 L222.2,449.9 L222.8,450.6 L223.3,451.2 L223.9,451.9 L224.4,452.5 L224.9,453.2 L225.5,453.9 L226.0,454.5 L226.5,455.2 L227.0,455.9 L227.6,456.5 L228.1,457.2 L228.6,457.9 L229.1,458.5 L229.6,459.2 L230.2,459.9 L230.7,460.5 L231.2,461.2 L231.7,461.9 L232.2,462.6 L232.7,463.3 L233.2,463.9 L233.7,464.6 L234.2,465.3 L234.7,466.0 L235.2,466.7 L235.7,467.4 L236.2,468.1 L236.7,468.7 L237.2,469.4 L237.7,470.1 L238.2,470.8 L238.7,471.5 L239.2,472.2 L239.7,472.9 L240.2,473.6 L240.7,474.3 L241.2,475.0 L241.6,475.7 L242.1,476.4 L242.6,477.1 L243.1,477.8 L243.6,478.5 L244.0,479.2 L244.5,479.9 L245.0,480.6 L245.5,481.3 L245.9,482.0 L246.4,482.7 L246.9,483.5 L247.3,484.2 L247.8,484.9 L248.3,485.6 L248.7,486.3 L249.2,487.0 L249.7,487.7 L250.1,488.4 L250.6,489.2 L251.1,489.9 L251.5,490.6 L252.0,491.3 L252.4,492.0 L252.9,492.8 L253.3,493.5 L253.8,494.2 L254.3,494.9 L254.7,495.6 L255.2,496.4 L255.6,497.1 L256.1,497.8 L256.5,498.5 L257.0,499.3 L257.4,500.0 L257.9,500.7 L258.3,501.4 L258.8,502.2 L259.2,502.9 L259.6,503.6 L260.1,504.4 L260.5,505.1 L261.0,505.8 L261.4,506.6 L261.9,507.3 L262.3,508.0 L262.7,508.8 L263.2,509.5 L263.6,510.2 L264.0,511.0 L264.5,511.7 L264.9,512.4 L265.4,513.2 L265.8,513.9 L266.2,514.6 L266.7,515.4 L267.1,516.1 L267.5,516.8 L268.0,517.6 L268.4,518.3 L268.8,519.0 L269.3,519.8 L269.7,520.5 L270.1,521.3 L270.6,522.0 L271.0,522.7 L271.4,523.5 L271.8,524.2 L272.3,524.9 L272.7,525.7 L273.1,526.4 L273.6,527.2 L274.0,527.9 L274.4,528.6 L274.8,529.4 L275.3,530.1 L275.7,530.9 L276.1,531.6 L276.5,532.3 L277.0,533.1 L277.4,533.8 L277.8,534.5 L278.3,535.3 L278.7,536.0 L279.1,536.8 L279.5,537.5 L280.0,538.2 L280.4,539.0 L280.8,539.7 L281.2,540.5 L281.7,541.2 L282.1,541.9 L282.5,542.7 L282.9,543.4 L283.4,544.1 L283.8,544.9 L284.2,545.6 L284.6,546.3 L285.0,547.0" fill="none" stroke="#8ccdf0" stroke-width="4.1" stroke-linecap="butt"/>
<path d="M287.9,552.0 L288.1,552.2 L288.5,553.0 L288.9,553.7 L289.3,554.4 L289.8,555.2 L290.2,555.9 L290.6,556.6 L291.1,557.4 L291.5,558.1 L291.9,558.8 L292.3,559.5 L292.6,560.0" fill="none" stroke="#8ccdf0" stroke-width="4.1" stroke-linecap="butt"/>
<path d="M295.6,565.0 L295.8,565.4 L296.2,566.1 L296.7,566.8 L297.1,567.5 L297.5,568.3 L298.0,569.0 L298.4,569.7 L298.8,570.4 L299.3,571.1 L299.7,571.9 L300.2,572.6 L300.6,573.3 L301.0,574.0 L301.5,574.7" fill="none" stroke="#8ccdf0" stroke-width="4.1" stroke-linecap="butt"/>
<path d="M66.5,405.4 L67.1,405.5 L67.9,405.7 L68.6,405.8 L69.3,406.0 L70.1,406.1 L70.8,406.3 L71.5,406.5 L72.3,406.6 L73.0,406.8 L73.7,407.0 L74.5,407.1 L75.0,407.3" fill="none" stroke="#8ccdf0" stroke-width="4.1" stroke-linecap="butt"/>
<path d="M81.0,408.8 L81.0,408.8 L81.8,409.0 L82.5,409.2 L83.2,409.4 L83.9,409.6 L84.6,409.8 L85.4,410.0 L86.1,410.2 L86.8,410.4 L87.5,410.6 L88.3,410.8 L89.0,411.0 L89.7,411.2 L90.4,411.4 L91.1,411.6 L91.5,411.7" fill="none" stroke="#8ccdf0" stroke-width="4.1" stroke-linecap="butt"/>
<path d="M99.7,414.4 L100.4,414.6 L101.1,414.8 L101.8,415.1 L102.5,415.3 L103.2,415.6 L103.9,415.8 L104.6,416.1 L105.3,416.3 L106.0,416.6 L106.7,416.8 L107.4,417.1 L108.1,417.3 L108.8,417.6 L109.5,417.9 L110.2,418.1 L110.9,418.4 L111.6,418.6 L112.3,418.9 L113.0,419.2 L113.7,419.5 L114.4,419.7 L115.1,420.0 L115.8,420.3 L116.4,420.6 L117.1,420.8 L117.8,421.1 L118.5,421.4 L119.2,421.7 L119.9,422.0 L120.6,422.3 L121.3,422.5 L121.9,422.8 L122.6,423.1 L123.3,423.4 L124.0,423.7 L124.7,424.0 L125.4,424.3 L126.0,424.6 L126.7,424.9 L127.4,425.2 L128.1,425.5 L128.8,425.8 L129.4,426.1 L130.1,426.5 L130.8,426.8 L131.5,427.1 L132.1,427.4 L132.8,427.7 L133.5,428.0 L134.1,428.3 L134.8,428.7 L135.5,429.0 L136.2,429.3 L136.8,429.6 L137.5,430.0 L138.2,430.3 L138.8,430.6 L139.5,431.0 L140.2,431.3 L140.8,431.6 L141.5,432.0 L142.1,432.3 L142.8,432.6 L143.5,433.0 L144.1,433.3 L144.8,433.7 L145.5,434.0 L146.1,434.4 L146.8,434.7 L147.4,435.0 L148.1,435.4 L148.7,435.8 L149.4,436.1 L150.0,436.5 L150.7,436.8 L151.3,437.2 L152.0,437.5 L152.6,437.9 L153.3,438.3 L153.9,438.6 L154.6,439.0 L155.2,439.4 L155.9,439.7 L156.5,440.1 L157.2,440.5 L157.8,440.8 L158.5,441.2 L159.1,441.6 L159.8,442.0 L160.4,442.3 L161.0,442.7 L161.7,443.1 L162.3,443.5 L162.9,443.9 L163.6,444.3 L164.2,444.6 L164.9,445.0 L165.5,445.4 L166.1,445.8 L166.8,446.2 L167.4,446.6 L168.0,447.0 L168.7,447.4 L169.3,447.8 L169.9,448.2 L170.5,448.6 L171.2,449.0 L171.8,449.4 L172.4,449.8 L173.0,450.2 L173.7,450.6 L174.3,451.0 L174.9,451.4 L175.5,451.8 L176.2,452.2 L176.8,452.6 L177.4,453.1 L178.0,453.5 L178.6,453.9 L179.3,454.3 L179.9,454.7 L180.5,455.1 L181.1,455.6 L181.7,456.0 L182.3,456.4 L182.9,456.8 L183.6,457.3 L184.2,457.7 L184.8,458.1 L185.4,458.6 L186.0,459.0 L186.6,459.4 L187.2,459.8 L187.8,460.3 L188.4,460.7 L189.0,461.2 L189.6,461.6 L190.2,462.0 L190.8,462.5 L191.4,462.9 L192.0,463.4 L192.6,463.8 L193.2,464.3 L193.8,464.7 L194.4,465.2 L195.0,465.6 L195.6,466.0 L196.2,466.5 L196.8,467.0 L197.4,467.4 L198.0,467.9 L198.6,468.3 L199.2,468.8 L199.7,469.2 L200.3,469.7 L200.9,470.2 L201.5,470.6 L202.1,471.1 L202.7,471.5 L203.3,472.0 L203.8,472.5 L204.4,472.9 L205.0,473.4 L205.6,473.9 L206.2,474.4 L206.8,474.8 L207.3,475.3 L207.9,475.8 L208.5,476.2 L209.1,476.7 L209.6,477.2 L210.2,477.7 L210.8,478.2 L211.4,478.6 L211.9,479.1 L212.5,479.6 L213.1,480.1 L213.6,480.6 L214.2,481.1 L214.8,481.5 L215.3,482.0 L215.9,482.5 L216.5,483.0 L217.0,483.5 L217.6,484.0 L218.2,484.5 L218.7,485.0 L219.3,485.5 L219.8,486.0 L220.4,486.5 L220.9,487.0 L221.5,487.5 L222.1,488.0 L222.6,488.5 L223.2,489.0 L223.7,489.5 L224.3,490.0 L224.8,490.5 L225.3,491.0 L225.9,491.5 L226.4,492.0 L227.0,492.5 L227.5,493.0 L228.1,493.6 L228.6,494.1 L229.1,494.6 L229.7,495.1 L230.2,495.6 L230.7,496.2 L231.2,496.7 L231.8,497.2 L232.3,497.7 L232.8,498.3 L233.3,498.8 L233.9,499.3 L234.4,499.9 L234.9,500.4 L235.4,501.0 L235.9,501.5 L236.4,502.0 L236.9,502.6 L237.4,503.1 L237.9,503.7 L238.4,504.2 L238.9,504.8 L239.4,505.4 L239.9,505.9 L240.4,506.5 L240.9,507.0 L241.4,507.6 L241.8,508.2 L242.3,508.7 L242.8,509.3 L243.3,509.9 L243.7,510.5 L244.2,511.0 L244.7,511.6 L245.1,512.2 L245.6,512.8 L246.1,513.4 L246.5,513.9 L247.0,514.5 L247.5,515.1 L247.9,515.7 L248.4,516.3 L248.8,516.9 L249.3,517.4 L249.8,518.0 L250.2,518.6 L250.7,519.2 L251.1,519.8 L251.6,520.4 L252.0,521.0 L252.5,521.6 L253.0,522.1 L253.4,522.7 L253.9,523.3 L254.3,523.9 L254.8,524.5 L255.2,525.1 L255.7,525.7 L256.2,526.2 L256.6,526.8 L257.1,527.4 L257.5,528.0 L258.0,528.6 L258.5,529.2 L258.9,529.7 L259.4,530.3 L259.9,530.9 L260.3,531.5 L260.8,532.1 L261.3,532.6 L261.7,533.2 L262.2,533.8 L262.7,534.3 L263.2,534.9 L263.7,535.5 L264.1,536.0 L264.6,536.6 L265.1,537.2 L265.6,537.7 L266.1,538.3 L266.6,538.8 L267.1,539.4 L267.6,540.0 L268.1,540.5 L268.6,541.1 L269.1,541.6 L269.6,542.2 L270.1,542.7 L270.6,543.3 L271.1,543.8 L271.6,544.3 L272.1,544.9 L272.6,545.4 L273.1,546.0 L273.6,546.5 L274.1,547.0 L274.6,547.6 L275.1,548.1 L275.7,548.7 L276.2,549.2 L276.7,549.7 L277.2,550.2 L277.7,550.8 L278.3,551.3 L278.8,551.8 L279.3,552.3 L279.8,552.9 L280.4,553.4 L280.9,553.9 L281.4,554.4 L282.0,555.0 L282.5,555.5 L283.0,556.0 L283.6,556.5 L284.1,557.0 L284.7,557.5 L285.2,558.0 L285.7,558.5 L286.3,559.1 L286.8,559.6 L287.4,560.1 L287.9,560.6 L288.5,561.1 L289.0,561.6 L289.6,562.1 L290.1,562.6 L290.7,563.1 L291.2,563.6 L291.8,564.1 L292.4,564.6 L292.9,565.1 L293.5,565.6 L294.0,566.0 L294.6,566.5 L295.2,567.0 L295.7,567.5 L296.3,568.0 L296.9,568.5 L297.4,569.0 L298.0,569.5 L298.6,569.9 L299.2,570.4 L299.7,570.9 L300.3,571.4 L300.9,571.9 L301.4,572.3 L302.0,572.8 L302.6,573.3 L303.2,573.8 L303.7,574.3" fill="none" stroke="#8ccdf0" stroke-width="4.1" stroke-linecap="butt"/>
<path d="M66.5,279.5 L68.1,279.7 L69.9,280.0 L71.7,280.3 L73.5,280.5 L75.3,280.8 L76.0,280.9" fill="none" stroke="#22208a" stroke-width="3.9" stroke-linecap="butt"/>
<path d="M85.5,282.3 L86.1,282.4 L87.9,282.7 L89.7,283.0 L91.5,283.3 L93.3,283.6 L95.1,283.9 L96.9,284.2 L98.7,284.5 L100.5,284.8 L102.3,285.1 L104.1,285.4 L105.9,285.7 L107.7,286.0 L109.4,286.3 L111.2,286.7 L113.0,287.0 L114.8,287.3 L116.6,287.6 L118.4,288.0 L120.2,288.3 L122.0,288.7 L123.7,289.0 L125.5,289.3 L127.3,289.7 L129.1,290.0 L130.9,290.4 L132.7,290.7 L134.4,291.1 L136.2,291.5 L138.0,291.8 L139.8,292.2 L141.6,292.6 L143.3,292.9 L145.1,293.3 L146.9,293.7 L148.7,294.1 L150.4,294.4 L152.2,294.8 L154.0,295.2 L155.7,295.6 L157.5,296.0 L159.3,296.4 L161.1,296.8 L162.8,297.2 L164.6,297.6 L166.4,298.0 L168.1,298.4 L169.9,298.8 L171.7,299.3 L173.4,299.7 L175.2,300.1 L177.0,300.5 L178.7,300.9 L180.5,301.4 L182.2,301.8 L184.0,302.2 L185.8,302.7 L187.5,303.1 L189.3,303.6 L191.0,304.0 L192.8,304.5 L194.5,304.9 L196.3,305.4 L198.0,305.8 L199.8,306.3 L201.6,306.7 L203.3,307.2 L205.1,307.7 L206.8,308.1 L208.6,308.6 L210.3,309.1 L212.1,309.6 L213.8,310.0 L215.5,310.5 L217.3,311.0 L219.0,311.5 L220.8,312.0 L222.5,312.5 L224.3,313.0 L226.0,313.5 L227.7,314.0 L229.5,314.5 L231.2,315.0 L233.0,315.5 L234.7,316.0 L236.4,316.5 L238.2,317.0 L239.9,317.5 L241.6,318.1 L243.4,318.6 L245.1,319.1 L246.8,319.6 L248.6,320.2 L250.3,320.7 L252.0,321.2 L253.8,321.8 L255.5,322.3 L257.2,322.9 L258.9,323.4 L260.7,324.0 L262.4,324.5 L264.1,325.1 L265.8,325.6 L267.5,326.2 L269.3,326.7 L271.0,327.3 L272.7,327.9 L274.4,328.4 L276.1,329.0 L277.9,329.6 L279.6,330.2 L281.3,330.7 L283.0,331.3 L284.7,331.9 L286.4,332.5 L288.1,333.1 L289.8,333.7 L291.6,334.3 L293.3,334.9 L295.0,335.5 L296.7,336.1 L298.4,336.7 L300.1,337.3 L301.8,337.9 L303.5,338.5 L305.2,339.1 L306.9,339.7 L308.6,340.3 L310.3,341.0 L312.0,341.6 L313.7,342.2 L315.4,342.8 L317.1,343.5 L318.8,344.1 L320.5,344.7 L322.2,345.4 L323.9,346.0 L325.6,346.7 L327.2,347.3 L328.9,348.0 L330.6,348.6 L332.3,349.3 L334.0,349.9 L335.7,350.6 L337.4,351.2 L339.1,351.9 L340.7,352.6 L342.4,353.2 L344.1,353.9 L345.8,354.6 L347.5,355.2 L349.1,355.9 L350.8,356.6 L352.5,357.3 L354.2,358.0 L355.8,358.6 L357.5,359.3 L359.2,360.0 L360.9,360.7 L362.5,361.4 L364.2,362.1 L365.9,362.8 L367.5,363.5 L369.2,364.2 L370.9,364.9 L372.5,365.6 L374.2,366.3 L375.9,367.0 L377.5,367.8 L379.2,368.5 L380.8,369.2 L382.5,369.9 L384.2,370.6 L385.8,371.4 L387.5,372.1 L389.1,372.8 L390.8,373.6 L392.4,374.3 L394.1,375.0 L395.8,375.8 L397.4,376.5 L399.1,377.3 L400.7,378.0 L402.3,378.8 L404.0,379.5 L405.6,380.3 L407.3,381.0 L408.9,381.8 L410.6,382.5 L412.2,383.3 L413.9,384.1 L415.5,384.8 L417.1,385.6 L418.8,386.4 L420.4,387.2 L422.0,387.9 L423.7,388.7 L425.3,389.5 L426.9,390.3 L428.6,391.1 L430.2,391.8 L431.8,392.6 L433.5,393.4 L435.1,394.2 L436.7,395.0 L438.3,395.8 L440.0,396.6 L441.6,397.4 L443.2,398.2 L444.8,399.0 L446.5,399.8 L448.1,400.6 L449.7,401.5 L451.3,402.3 L452.9,403.1 L454.5,403.9 L456.2,404.7 L457.8,405.6 L459.4,406.4 L461.0,407.2 L462.6,408.0 L464.2,408.9 L465.8,409.7 L467.4,410.5 L469.0,411.4 L470.6,412.2 L472.2,413.1 L473.8,413.9 L475.4,414.8 L477.1,415.6 L478.6,416.5 L480.2,417.3 L481.8,418.2 L483.4,419.0 L485.0,419.9 L486.6,420.7 L488.2,421.6 L489.8,422.5 L491.4,423.3 L493.0,424.2 L494.6,425.1 L496.2,425.9 L497.8,426.8 L499.3,427.7 L500.9,428.6 L502.5,429.5 L504.1,430.3 L505.7,431.2 L507.3,432.1 L508.8,433.0 L510.4,433.9 L512.0,434.8 L513.6,435.7 L515.1,436.6 L516.7,437.5 L518.3,438.4 L519.9,439.3 L521.4,440.2 L523.0,441.1 L524.6,442.0 L526.1,442.9 L527.7,443.8 L529.3,444.8 L530.8,445.7 L532.4,446.6 L533.9,447.5 L535.5,448.4 L537.1,449.4 L538.6,450.3 L540.2,451.2 L541.7,452.1 L543.3,453.1 L544.8,454.0 L546.4,455.0 L547.9,455.9 L549.5,456.8 L551.0,457.8 L552.6,458.7 L554.1,459.7 L555.7,460.6 L557.2,461.6 L558.8,462.5 L560.3,463.5 L561.8,464.4 L563.4,465.4 L564.9,466.3 L566.5,467.3 L568.0,468.3 L569.5,469.2 L571.1,470.2 L572.6,471.2 L574.1,472.1 L575.7,473.1 L577.2,474.1 L578.7,475.1 L580.2,476.0 L581.8,477.0 L583.3,478.0 L584.8,479.0 L586.3,480.0 L587.8,481.0 L589.4,482.0 L590.9,482.9 L592.4,483.9 L593.9,484.9 L595.4,485.9 L596.9,486.9 L598.5,487.9 L600.0,488.9 L601.5,489.9 L603.0,490.9 L604.5,492.0 L606.0,493.0 L607.5,494.0 L609.0,495.0 L610.5,496.0 L612.0,497.0 L613.5,498.0 L615.0,499.1 L616.5,500.1 L618.0,501.1 L619.5,502.1 L621.0,503.2 L622.5,504.2 L624.0,505.2 L625.5,506.2 L626.9,507.3 L628.4,508.3 L629.9,509.4 L631.4,510.4 L632.9,511.4 L634.4,512.5 L635.9,513.5 L637.3,514.6 L638.8,515.6 L640.3,516.7 L641.8,517.7 L643.2,518.8 L644.7,519.8 L646.2,520.9 L647.7,521.9 L649.1,523.0 L650.6,524.1 L652.1,525.1 L653.5,526.2 L655.0,527.3 L656.5,528.3 L657.9,529.4 L659.4,530.5 L660.8,531.5 L662.3,532.6 L663.8,533.7 L665.2,534.8 L666.7,535.8 L668.1,536.9 L669.6,538.0 L671.0,539.1 L672.5,540.2 L673.9,541.3 L675.4,542.4 L676.2,543.0" fill="none" stroke="#22208a" stroke-width="3.9" stroke-linecap="butt"/>
<path d="M66.5,353.5 L68.2,353.7 L69.0,353.8" fill="none" stroke="#22208a" stroke-width="3.9" stroke-linecap="butt"/>
<path d="M80.0,355.0 L80.3,355.0 L82.0,355.2 L83.7,355.4 L85.5,355.6 L87.2,355.8 L88.9,356.0 L90.6,356.2 L92.4,356.4 L94.1,356.6 L94.5,356.7" fill="none" stroke="#22208a" stroke-width="3.9" stroke-linecap="butt"/>
<path d="M97.5,357.1 L97.5,357.1 L99.3,357.3 L101.0,357.5 L102.7,357.7 L104.4,357.9 L106.2,358.2 L107.9,358.4 L109.6,358.6 L111.3,358.9 L113.0,359.1 L114.8,359.3 L116.5,359.6 L118.2,359.8 L119.9,360.1 L121.6,360.3 L123.3,360.6 L125.1,360.8 L126.8,361.1 L128.5,361.3 L130.2,361.6 L131.9,361.9 L133.6,362.1 L135.4,362.4 L137.1,362.6 L138.8,362.9 L140.5,363.2 L142.2,363.5 L143.9,363.7 L145.6,364.0 L147.4,364.3 L149.1,364.6 L150.8,364.9 L152.5,365.1 L154.2,365.4 L155.9,365.7 L157.6,366.0 L159.3,366.3 L161.0,366.6 L162.7,366.9 L164.5,367.2 L166.2,367.5 L167.9,367.8 L169.6,368.1 L171.3,368.4 L173.0,368.7 L174.7,369.1 L176.4,369.4 L178.1,369.7 L179.8,370.0 L181.5,370.3 L183.2,370.6 L184.9,371.0 L186.6,371.3 L188.3,371.6 L190.0,372.0 L191.7,372.3 L193.4,372.6 L195.1,373.0 L196.8,373.3 L198.5,373.7 L200.2,374.0 L201.9,374.3 L203.6,374.7 L205.3,375.0 L207.0,375.4 L208.7,375.7 L210.4,376.1 L212.1,376.5 L213.8,376.8 L215.5,377.2 L217.2,377.5 L218.9,377.9 L220.6,378.3 L222.3,378.6 L224.0,379.0 L225.7,379.4 L227.4,379.8 L229.1,380.1 L230.7,380.5 L232.4,380.9 L234.1,381.3 L235.8,381.7 L237.5,382.1 L239.2,382.5 L240.9,382.9 L242.6,383.2 L244.3,383.6 L245.9,384.0 L247.6,384.4 L249.3,384.8 L251.0,385.2 L252.7,385.6 L254.4,386.1 L256.1,386.5 L257.7,386.9 L259.4,387.3 L261.1,387.7 L262.8,388.1 L264.5,388.5 L266.2,389.0 L267.8,389.4 L269.5,389.8 L271.2,390.2 L272.9,390.7 L274.6,391.1 L276.2,391.5 L277.9,392.0 L279.6,392.4 L281.3,392.8 L282.9,393.3 L284.6,393.7 L286.3,394.2 L288.0,394.6 L289.6,395.1 L291.3,395.5 L293.0,396.0 L294.7,396.4 L296.3,396.9 L298.0,397.3 L299.7,397.8 L301.4,398.2 L303.0,398.7 L304.7,399.2 L306.4,399.6 L308.0,400.1 L309.7,400.6 L311.4,401.0 L313.0,401.5 L314.7,402.0 L316.4,402.5 L318.0,403.0 L319.7,403.4 L321.4,403.9 L323.0,404.4 L324.7,404.9 L326.4,405.4 L328.0,405.9 L329.7,406.4 L331.3,406.9 L333.0,407.4 L334.7,407.9 L336.3,408.4 L338.0,408.9 L339.6,409.4 L341.3,409.9 L343.0,410.4 L344.6,410.9 L346.3,411.4 L347.9,411.9 L349.6,412.4 L351.2,412.9 L352.9,413.4 L354.6,414.0 L356.2,414.5 L357.9,415.0 L359.5,415.5 L361.2,416.1 L362.8,416.6 L364.5,417.1 L366.1,417.7 L367.8,418.2 L369.4,418.7 L371.1,419.3 L372.7,419.8 L374.4,420.3 L376.0,420.9 L377.7,421.4 L379.3,422.0 L381.0,422.5 L382.6,423.1 L384.2,423.6 L385.9,424.2 L387.5,424.7 L389.2,425.3 L390.8,425.8 L392.5,426.4 L394.1,427.0 L395.7,427.5 L397.4,428.1 L399.0,428.7 L400.7,429.2 L402.3,429.8 L403.9,430.4 L405.6,430.9 L407.2,431.5 L408.8,432.1 L410.5,432.7 L412.1,433.2 L413.7,433.8 L415.4,434.4 L417.0,435.0 L418.6,435.6 L420.3,436.2 L421.9,436.8 L423.5,437.3 L425.2,437.9 L426.8,438.5 L428.4,439.1 L430.1,439.7 L431.7,440.3 L433.3,440.9 L434.9,441.5 L436.6,442.1 L438.2,442.7 L439.8,443.4 L441.4,444.0 L443.1,444.6 L444.7,445.2 L446.3,445.8 L447.9,446.4 L449.5,447.0 L451.2,447.7 L452.8,448.3 L454.4,448.9 L456.0,449.5 L457.6,450.2 L459.3,450.8 L460.9,451.4 L462.5,452.0 L464.1,452.7 L465.7,453.3 L467.3,453.9 L469.0,454.6 L470.6,455.2 L472.2,455.9 L473.8,456.5 L475.4,457.1 L477.0,457.8 L478.6,458.4 L480.2,459.1 L481.8,459.7 L483.5,460.4 L485.1,461.0 L486.7,461.7 L488.3,462.4 L489.9,463.0 L491.5,463.7 L493.1,464.3 L494.7,465.0 L496.3,465.7 L497.9,466.3 L499.5,467.0 L501.1,467.7 L502.7,468.3 L504.3,469.0 L505.9,469.7 L507.5,470.3 L509.1,471.0 L510.7,471.7 L512.3,472.4 L513.9,473.1 L515.5,473.7 L517.1,474.4 L518.7,475.1 L520.3,475.8 L521.9,476.5 L523.4,477.2 L525.0,477.9 L526.6,478.6 L528.2,479.3 L529.8,479.9 L531.4,480.6 L533.0,481.3 L534.6,482.0 L536.2,482.7 L537.7,483.4 L539.3,484.2 L540.9,484.9 L542.5,485.6 L544.1,486.3 L545.7,487.0 L547.2,487.7 L548.8,488.4 L550.4,489.1 L552.0,489.8 L553.6,490.6 L555.1,491.3 L556.7,492.0 L558.3,492.7 L559.9,493.4 L561.5,494.2 L563.0,494.9 L564.6,495.6 L566.2,496.4 L567.7,497.1 L569.3,497.8 L570.9,498.5 L572.5,499.3 L574.0,500.0 L575.6,500.8 L577.2,501.5 L578.7,502.2 L580.3,503.0 L581.9,503.7 L583.4,504.5 L585.0,505.2 L586.6,506.0 L588.1,506.7 L589.7,507.5 L591.3,508.2 L592.8,509.0 L594.4,509.7 L595.9,510.5 L597.5,511.2 L599.1,512.0 L600.6,512.7 L602.2,513.5 L603.7,514.3 L605.3,515.0 L606.8,515.8 L608.4,516.6 L610.0,517.3 L611.5,518.1 L613.1,518.9 L614.6,519.6 L616.2,520.4 L617.7,521.2 L619.3,522.0 L620.8,522.7 L622.4,523.5 L623.9,524.3 L625.4,525.1 L627.0,525.9 L628.5,526.7 L630.1,527.4 L631.6,528.2 L633.2,529.0 L634.7,529.8 L636.3,530.6 L637.8,531.4 L639.3,532.2 L640.9,533.0 L642.4,533.8 L643.9,534.6 L645.5,535.4 L647.0,536.2 L648.6,537.0 L650.1,537.8 L651.5,538.5" fill="none" stroke="#22208a" stroke-width="3.9" stroke-linecap="butt"/>
<path d="M66.5,429.3 L68.1,429.4 L69.8,429.6 L70.5,429.6" fill="none" stroke="#22208a" stroke-width="3.9" stroke-linecap="butt"/>
<path d="M82.5,430.6 L83.1,430.6 L84.8,430.7 L86.5,430.9 L88.1,431.0 L89.8,431.2 L91.5,431.3 L93.2,431.4 L94.8,431.6 L96.0,431.7" fill="none" stroke="#22208a" stroke-width="3.9" stroke-linecap="butt"/>
<path d="M99.0,432.0 L99.8,432.0 L101.5,432.2 L103.2,432.3 L104.8,432.5 L106.5,432.6 L108.2,432.8 L109.8,432.9 L111.5,433.1 L113.2,433.3 L114.9,433.4 L116.5,433.6 L118.2,433.7 L119.9,433.9 L121.5,434.1 L123.2,434.2 L124.9,434.4 L126.5,434.6 L128.2,434.7 L129.9,434.9 L131.5,435.1 L133.2,435.3 L134.9,435.4 L136.5,435.6 L138.2,435.8 L139.9,436.0 L141.5,436.1 L143.2,436.3 L144.9,436.5 L146.5,436.7 L148.2,436.9 L149.9,437.1 L151.5,437.2 L153.2,437.4 L154.9,437.6 L156.5,437.8 L158.2,438.0 L159.9,438.2 L161.5,438.4 L163.2,438.6 L164.8,438.8 L166.5,439.0 L168.2,439.2 L169.8,439.4 L171.5,439.6 L173.2,439.8 L174.8,440.0 L176.5,440.2 L178.1,440.4 L179.8,440.6 L181.5,440.8 L183.1,441.0 L184.8,441.2 L186.5,441.4 L188.1,441.7 L189.8,441.9 L191.4,442.1 L193.1,442.3 L194.8,442.5 L196.4,442.7 L198.1,443.0 L199.7,443.2 L201.4,443.4 L203.1,443.6 L204.7,443.9 L206.4,444.1 L208.0,444.3 L209.7,444.5 L211.4,444.8 L213.0,445.0 L214.7,445.2 L216.3,445.5 L218.0,445.7 L219.7,446.0 L221.3,446.2 L223.0,446.4 L224.6,446.7 L226.3,446.9 L228.0,447.2 L229.6,447.4 L231.3,447.6 L232.9,447.9 L234.6,448.1 L236.2,448.4 L237.9,448.6 L239.5,448.9 L241.2,449.1 L242.9,449.4 L244.5,449.7 L246.2,449.9 L247.8,450.2 L249.5,450.4 L251.1,450.7 L252.8,451.0 L254.4,451.2 L256.1,451.5 L257.8,451.7 L259.4,452.0 L261.1,452.3 L262.7,452.5 L264.4,452.8 L266.0,453.1 L267.7,453.4 L269.3,453.6 L271.0,453.9 L272.6,454.2 L274.3,454.5 L275.9,454.7 L277.6,455.0 L279.2,455.3 L280.9,455.6 L282.5,455.9 L284.2,456.2 L285.8,456.4 L287.5,456.7 L289.1,457.0 L290.8,457.3 L292.4,457.6 L294.1,457.9 L295.7,458.2 L297.4,458.5 L299.0,458.8 L300.7,459.1 L302.3,459.4 L304.0,459.7 L305.6,460.0 L307.3,460.3 L308.9,460.6 L310.6,460.9 L312.2,461.2 L313.9,461.5 L315.5,461.8 L317.2,462.1 L318.8,462.4 L320.4,462.7 L322.1,463.0 L323.7,463.4 L325.4,463.7 L327.0,464.0 L328.7,464.3 L330.3,464.6 L332.0,464.9 L333.6,465.3 L335.2,465.6 L336.9,465.9 L338.5,466.2 L340.2,466.6 L341.8,466.9 L343.5,467.2 L345.1,467.5 L346.7,467.9 L348.4,468.2 L350.0,468.5 L351.7,468.9 L353.3,469.2 L354.9,469.5 L356.6,469.9 L358.2,470.2 L359.9,470.6 L361.5,470.9 L363.1,471.2 L364.8,471.6 L366.4,471.9 L368.1,472.3 L369.7,472.6 L371.3,473.0 L373.0,473.3 L374.6,473.7 L376.3,474.0 L377.9,474.4 L379.5,474.7 L381.2,475.1 L382.8,475.4 L384.4,475.8 L386.1,476.2 L387.7,476.5 L389.3,476.9 L391.0,477.2 L392.6,477.6 L394.2,478.0 L395.9,478.3 L397.5,478.7 L399.2,479.1 L400.8,479.5 L402.4,479.8 L404.1,480.2 L405.7,480.6 L407.3,480.9 L408.9,481.3 L410.6,481.7 L412.2,482.1 L413.8,482.5 L415.5,482.8 L417.1,483.2 L418.7,483.6 L420.4,484.0 L422.0,484.4 L423.6,484.8 L425.3,485.1 L426.9,485.5 L428.5,485.9 L430.1,486.3 L431.8,486.7 L433.4,487.1 L435.0,487.5 L436.7,487.9 L438.3,488.3 L439.9,488.7 L441.5,489.1 L443.2,489.5 L444.8,489.9 L446.4,490.3 L448.0,490.7 L449.7,491.1 L451.3,491.5 L452.9,491.9 L454.5,492.3 L456.2,492.7 L457.8,493.1 L459.4,493.6 L461.0,494.0 L462.7,494.4 L464.3,494.8 L465.9,495.2 L467.5,495.6 L469.1,496.1 L470.8,496.5 L472.4,496.9 L474.0,497.3 L475.6,497.8 L477.3,498.2 L478.9,498.6 L480.5,499.0 L482.1,499.5 L483.7,499.9 L485.3,500.3 L487.0,500.8 L488.6,501.2 L490.2,501.6 L491.8,502.1 L493.4,502.5 L495.1,502.9 L496.7,503.4 L498.3,503.8 L499.9,504.3 L501.5,504.7 L503.1,505.1 L504.8,505.6 L506.4,506.0 L508.0,506.5 L509.6,506.9 L511.2,507.4 L512.8,507.8 L514.4,508.3 L516.0,508.7 L517.7,509.2 L519.3,509.7 L520.9,510.1 L522.5,510.6 L524.1,511.0 L525.7,511.5 L527.3,512.0 L528.9,512.4 L530.6,512.9 L532.2,513.3 L533.8,513.8 L535.4,514.3 L537.0,514.7 L538.6,515.2 L540.2,515.7 L541.8,516.2 L543.4,516.6 L545.0,517.1 L546.6,517.6 L548.2,518.1 L549.8,518.5 L551.5,519.0 L553.1,519.5 L554.7,520.0 L556.3,520.5 L557.9,521.0 L559.5,521.4 L561.1,521.9 L562.7,522.4 L564.3,522.9 L565.9,523.4 L567.5,523.9 L569.1,524.4 L570.7,524.9 L572.3,525.4 L573.9,525.9 L575.5,526.3 L577.1,526.8 L578.7,527.3 L580.3,527.8 L581.9,528.3 L583.5,528.9 L585.1,529.4 L586.7,529.9 L588.3,530.4 L589.9,530.9 L591.5,531.4 L593.1,531.9 L594.7,532.4 L596.3,532.9 L597.9,533.4 L599.5,533.9 L601.1,534.5 L602.7,535.0 L604.3,535.5 L605.8,536.0 L607.4,536.5 L609.0,537.0 L610.6,537.6 L612.2,538.1 L613.8,538.6 L615.4,539.1 L617.0,539.7 L618.6,540.2 L619.9,540.6" fill="none" stroke="#22208a" stroke-width="3.9" stroke-linecap="butt"/>
<path d="M685.7,550.3 L686.9,551.1 L688.3,552.2 L689.8,553.4 L691.2,554.5 L692.6,555.6 L694.0,556.7 L695.5,557.8 L696.9,558.9 L697.0,559.0" fill="none" stroke="#22208a" stroke-width="3.8" stroke-linecap="butt"/>
<path d="M703.1,563.7 L704.0,564.5 L705.4,565.6 L706.9,566.7 L708.3,567.9 L709.7,569.0 L711.1,570.1 L712.5,571.3 L713.9,572.4 L715.3,573.5 L715.6,573.8" fill="none" stroke="#22208a" stroke-width="3.8" stroke-linecap="butt"/>
<path d="M660.2,543.1 L660.8,543.4 L662.3,544.2 L663.9,545.0 L665.4,545.8 L666.9,546.7 L668.4,547.5 L670.0,548.3 L671.4,549.1" fill="none" stroke="#22208a" stroke-width="3.8" stroke-linecap="butt"/>
<path d="M684.0,555.9 L685.2,556.5 L686.7,557.4 L688.2,558.2 L689.7,559.0 L691.2,559.9 L692.7,560.7 L694.3,561.6 L695.3,562.1" fill="none" stroke="#22208a" stroke-width="3.8" stroke-linecap="butt"/>
<path d="M703.1,566.5 L703.3,566.6 L704.8,567.5 L706.3,568.3 L707.8,569.1 L709.3,570.0 L710.8,570.8 L712.3,571.7 L713.8,572.6 L715.3,573.4 L715.6,573.6" fill="none" stroke="#22208a" stroke-width="3.8" stroke-linecap="butt"/>
<path d="M631.6,544.5 L632.9,545.0 L634.5,545.5 L636.1,546.1 L637.6,546.6 L639.2,547.2 L640.8,547.7 L642.4,548.2 L643.7,548.7" fill="none" stroke="#22208a" stroke-width="3.8" stroke-linecap="butt"/>
<path d="M655.0,552.6 L655.1,552.6 L656.7,553.2 L658.2,553.8 L659.8,554.3 L661.4,554.9 L663.0,555.4 L664.6,556.0 L666.1,556.6 L667.5,557.1" fill="none" stroke="#22208a" stroke-width="3.8" stroke-linecap="butt"/>
<path d="M679.7,561.4 L680.3,561.7 L681.9,562.2 L683.5,562.8 L685.1,563.4 L686.6,564.0 L688.2,564.5 L689.8,565.1 L691.4,565.7 L691.8,565.9" fill="none" stroke="#22208a" stroke-width="3.8" stroke-linecap="butt"/>
<path d="M703.1,570.1 L703.9,570.4 L705.5,571.0 L707.1,571.6 L708.7,572.2 L710.2,572.8 L711.8,573.3 L713.4,573.9 L714.9,574.5 L715.6,574.8" fill="none" stroke="#22208a" stroke-width="3.8" stroke-linecap="butt"/>
<line x1="307" y1="338" x2="679" y2="205" stroke="#2a2858" stroke-width="1.15" stroke-opacity="0.9"/>
<line x1="239" y1="384" x2="679" y2="247" stroke="#2a2858" stroke-width="1.15" stroke-opacity="0.9"/>
<line x1="130.5" y1="435.5" x2="679" y2="289" stroke="#2a2858" stroke-width="1.15" stroke-opacity="0.9"/>
<line x1="247" y1="429" x2="679" y2="331" stroke="#2a2858" stroke-width="1.15" stroke-opacity="0.9"/>
<line x1="229" y1="457.4" x2="679" y2="373" stroke="#2a2858" stroke-width="1.15" stroke-opacity="0.9"/>
<line x1="216.5" y1="484.4" x2="679" y2="414" stroke="#2a2858" stroke-width="1.15" stroke-opacity="0.9"/>
<circle cx="307" cy="338" r="3.2" fill="#fff" stroke="#2a2858" stroke-width="1.2"/>
<circle cx="239" cy="384" r="3.2" fill="#fff" stroke="#2a2858" stroke-width="1.2"/>
<circle cx="130.5" cy="435.5" r="3.2" fill="#fff" stroke="#2a2858" stroke-width="1.2"/>
<circle cx="247" cy="429" r="3.2" fill="#fff" stroke="#2a2858" stroke-width="1.2"/>
<circle cx="229" cy="457.4" r="3.2" fill="#fff" stroke="#2a2858" stroke-width="1.2"/>
<circle cx="216.5" cy="484.4" r="3.2" fill="#fff" stroke="#2a2858" stroke-width="1.2"/>
<rect x="679" y="190.0" width="80" height="29.6" fill="#168a4e"/>
<text x="719.5" y="210.5" text-anchor="middle" font-family="Liberation Sans, sans-serif" font-weight="bold" font-size="16" fill="#fff" letter-spacing="0.75">150/60</text>
<rect x="679" y="231.8" width="80" height="29.6" fill="#168a4e"/>
<text x="719.5" y="252.3" text-anchor="middle" font-family="Liberation Sans, sans-serif" font-weight="bold" font-size="16" fill="#fff" letter-spacing="0.75">150/45</text>
<rect x="679" y="273.6" width="80" height="29.6" fill="#168a4e"/>
<text x="719.5" y="294.1" text-anchor="middle" font-family="Liberation Sans, sans-serif" font-weight="bold" font-size="16" fill="#fff" letter-spacing="0.75">150/30</text>
<rect x="679" y="315.4" width="80" height="29.6" fill="#2590d2"/>
<text x="719.5" y="337.6" text-anchor="middle" font-family="Liberation Sans, sans-serif" font-weight="bold" font-style="italic" font-size="16" fill="#eef9ff" letter-spacing="1.3">55/75</text>
<rect x="679" y="357.2" width="80" height="29.6" fill="#2590d2"/>
<text x="719.5" y="379.4" text-anchor="middle" font-family="Liberation Sans, sans-serif" font-weight="bold" font-style="italic" font-size="16" fill="#eef9ff" letter-spacing="1.3">55/50</text>
<rect x="679" y="399.0" width="80" height="29.6" fill="#2590d2"/>
<text x="719.5" y="421.2" text-anchor="middle" font-family="Liberation Sans, sans-serif" font-weight="bold" font-style="italic" font-size="16" fill="#eef9ff" letter-spacing="1.3">55/35</text>
<text x="38.5" y="599.3" text-anchor="middle" font-family="Liberation Sans, sans-serif" font-weight="bold" font-size="16" letter-spacing="-0.3" fill="#111">0</text>
<text x="109.8" y="599.3" text-anchor="middle" font-family="Liberation Sans, sans-serif" font-weight="bold" font-size="16" letter-spacing="-0.3" fill="#111">10</text>
<text x="153.2" y="599.3" text-anchor="middle" font-family="Liberation Sans, sans-serif" font-weight="bold" font-size="16" letter-spacing="-0.3" fill="#111">20</text>
<text x="196.5" y="599.3" text-anchor="middle" font-family="Liberation Sans, sans-serif" font-weight="bold" font-size="16" letter-spacing="-0.3" fill="#111">30</text>
<text x="239.8" y="599.3" text-anchor="middle" font-family="Liberation Sans, sans-serif" font-weight="bold" font-size="16" letter-spacing="-0.3" fill="#111">40</text>
<text x="283.2" y="599.3" text-anchor="middle" font-family="Liberation Sans, sans-serif" font-weight="bold" font-size="16" letter-spacing="-0.3" fill="#111">50</text>
<text x="326.5" y="599.3" text-anchor="middle" font-family="Liberation Sans, sans-serif" font-weight="bold" font-size="16" letter-spacing="-0.3" fill="#111">60</text>
<text x="369.8" y="599.3" text-anchor="middle" font-family="Liberation Sans, sans-serif" font-weight="bold" font-size="16" letter-spacing="-0.3" fill="#111">70</text>
<text x="413.2" y="599.3" text-anchor="middle" font-family="Liberation Sans, sans-serif" font-weight="bold" font-size="16" letter-spacing="-0.3" fill="#111">80</text>
<text x="456.5" y="599.3" text-anchor="middle" font-family="Liberation Sans, sans-serif" font-weight="bold" font-size="16" letter-spacing="-0.3" fill="#111">90</text>
<text x="499.8" y="599.3" text-anchor="middle" font-family="Liberation Sans, sans-serif" font-weight="bold" font-size="16" letter-spacing="-0.3" fill="#111">100</text>
<text x="543.2" y="599.3" text-anchor="middle" font-family="Liberation Sans, sans-serif" font-weight="bold" font-size="16" letter-spacing="-0.3" fill="#111">110</text>
<text x="586.5" y="599.3" text-anchor="middle" font-family="Liberation Sans, sans-serif" font-weight="bold" font-size="16" letter-spacing="-0.3" fill="#111">120</text>
<text x="629.8" y="599.3" text-anchor="middle" font-family="Liberation Sans, sans-serif" font-weight="bold" font-size="16" letter-spacing="-0.3" fill="#111">130</text>
<text x="673.2" y="599.3" text-anchor="middle" font-family="Liberation Sans, sans-serif" font-weight="bold" font-size="16" letter-spacing="-0.3" fill="#111">140</text>
<text x="716.5" y="599.3" text-anchor="middle" font-family="Liberation Sans, sans-serif" font-weight="bold" font-size="16" letter-spacing="-0.3" fill="#111">150</text>
<text x="759.8" y="599.3" text-anchor="middle" font-family="Liberation Sans, sans-serif" font-weight="bold" font-size="16" letter-spacing="-0.3" fill="#111">160</text>
<text x="47.8" y="533.8" text-anchor="end" font-family="Liberation Sans, sans-serif" font-weight="bold" font-size="16" letter-spacing="-0.3" fill="#111">10</text>
<text x="47.8" y="485.6" text-anchor="end" font-family="Liberation Sans, sans-serif" font-weight="bold" font-size="16" letter-spacing="-0.3" fill="#111">20</text>
<text x="47.8" y="437.5" text-anchor="end" font-family="Liberation Sans, sans-serif" font-weight="bold" font-size="16" letter-spacing="-0.3" fill="#111">30</text>
<text x="47.8" y="389.4" text-anchor="end" font-family="Liberation Sans, sans-serif" font-weight="bold" font-size="16" letter-spacing="-0.3" fill="#111">40</text>
<text x="47.8" y="341.3" text-anchor="end" font-family="Liberation Sans, sans-serif" font-weight="bold" font-size="16" letter-spacing="-0.3" fill="#111">50</text>
<text x="47.8" y="293.1" text-anchor="end" font-family="Liberation Sans, sans-serif" font-weight="bold" font-size="16" letter-spacing="-0.3" fill="#111">60</text>
<text x="47.8" y="245.0" text-anchor="end" font-family="Liberation Sans, sans-serif" font-weight="bold" font-size="16" letter-spacing="-0.3" fill="#111">70</text>
<text x="47.8" y="196.9" text-anchor="end" font-family="Liberation Sans, sans-serif" font-weight="bold" font-size="16" letter-spacing="-0.3" fill="#111">80</text>
<text transform="translate(84 526.5) rotate(-90)" text-anchor="middle" font-family="Liberation Sans, sans-serif" font-weight="bold" font-size="14" fill="#111" stroke="#111" stroke-width="0.35">Напор, м</text>
<text x="475" y="560" text-anchor="middle" font-family="Liberation Sans, sans-serif" font-weight="bold" font-size="13.5" letter-spacing="0.4" fill="#fff8ee">Расход, л/мин</text>
<rect x="68.5" y="671" width="688.5" height="20" fill="url(#bar)"/>
<circle cx="86.8" cy="692.3" r="12" fill="#fff"/><circle cx="86.8" cy="692.3" r="8.6" fill="#f08a30"/>
<circle cx="737" cy="692.3" r="12" fill="#fff"/><circle cx="737" cy="692.3" r="8.6" fill="#2a92d4"/>
<text x="68.5" y="722.6" font-family="Liberation Sans, sans-serif" font-size="13.2" letter-spacing="-0.3" fill="#2a2a2a">Минимальный</text>
<text x="68.5" y="740.8" font-family="Liberation Sans, sans-serif" font-size="13.2" letter-spacing="0.3" fill="#2a2a2a">КПД насоса</text>
<text x="757.5" y="722.6" text-anchor="end" font-family="Liberation Sans, sans-serif" font-size="13.2" letter-spacing="-0.2" fill="#2a2a2a">Максимальный</text>
<text x="757.5" y="740.8" text-anchor="end" font-family="Liberation Sans, sans-serif" font-size="13.2" letter-spacing="0.3" fill="#2a2a2a">КПД насоса</text>
</svg>
</body></html>
